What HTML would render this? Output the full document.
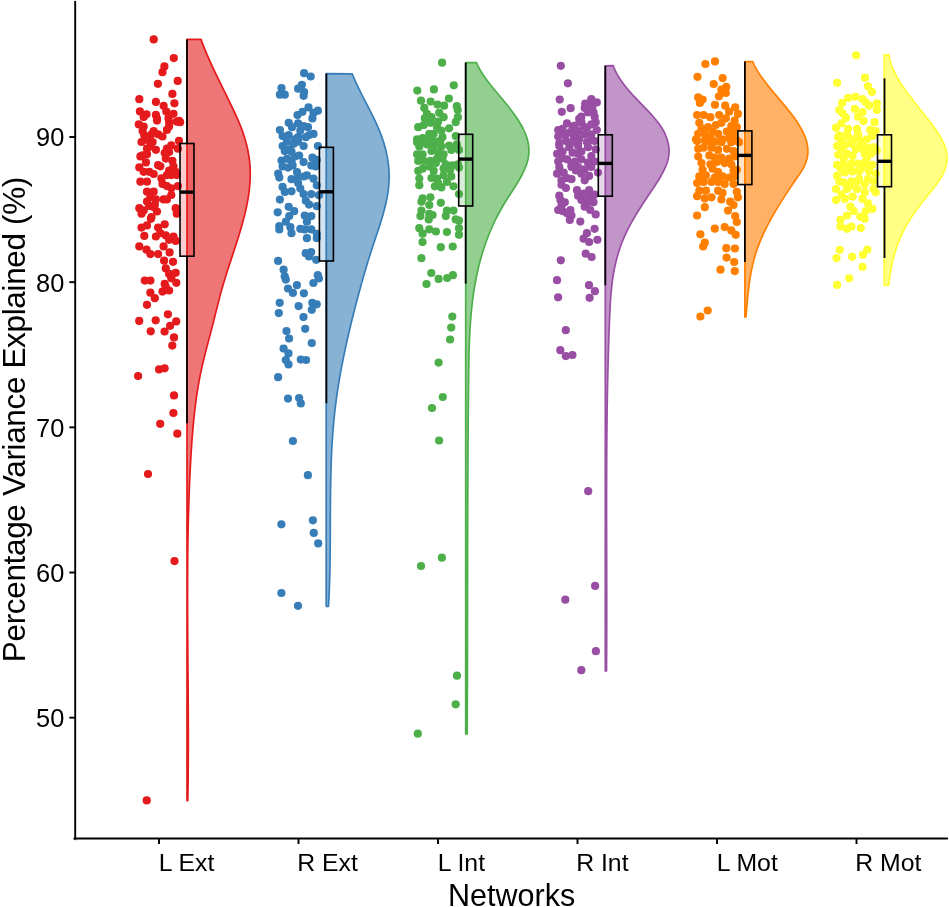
<!DOCTYPE html>
<html><head><meta charset="utf-8"><style>
html,body{margin:0;padding:0;background:#fff;}
svg{display:block;}
text{font-family:"Liberation Sans",Arial,sans-serif;fill:#000;}
.tk{font-size:24.8px;}
.tky{font-size:25.4px;}
.tt{font-size:31px;}
</style></head><body>
<svg width="949" height="907" viewBox="0 0 949 907">
<path d="M187.00,39.40 L201.01,39.40 L201.37,40.40 L201.73,41.40 L202.10,42.40 L202.48,43.40 L202.86,44.40 L203.24,45.40 L203.63,46.40 L204.03,47.40 L204.43,48.40 L204.83,49.40 L205.24,50.40 L205.66,51.40 L206.07,52.40 L206.49,53.40 L206.92,54.40 L207.35,55.40 L207.78,56.40 L208.22,57.40 L208.65,58.40 L209.10,59.40 L209.54,60.40 L209.99,61.40 L210.45,62.40 L210.90,63.40 L211.36,64.40 L211.82,65.40 L212.28,66.40 L212.75,67.40 L213.22,68.40 L213.69,69.40 L214.16,70.40 L214.64,71.40 L215.11,72.40 L215.59,73.40 L216.07,74.40 L216.56,75.40 L217.04,76.40 L217.52,77.40 L218.01,78.40 L218.50,79.40 L218.99,80.40 L219.48,81.40 L219.97,82.40 L220.46,83.40 L220.95,84.40 L221.45,85.40 L221.94,86.40 L222.43,87.40 L222.93,88.40 L223.42,89.40 L223.91,90.40 L224.41,91.40 L224.90,92.40 L225.40,93.40 L225.89,94.40 L226.38,95.40 L226.87,96.40 L227.36,97.40 L227.85,98.40 L228.34,99.40 L228.83,100.40 L229.32,101.40 L229.80,102.40 L230.29,103.40 L230.77,104.40 L231.25,105.40 L231.73,106.40 L232.21,107.40 L232.69,108.40 L233.16,109.40 L233.63,110.40 L234.10,111.40 L234.57,112.40 L235.03,113.40 L235.49,114.40 L235.94,115.40 L236.39,116.40 L236.84,117.40 L237.28,118.40 L237.72,119.40 L238.16,120.40 L238.58,121.40 L239.01,122.40 L239.42,123.40 L239.83,124.40 L240.24,125.40 L240.64,126.40 L241.03,127.40 L241.41,128.40 L241.79,129.40 L242.16,130.40 L242.52,131.40 L242.87,132.40 L243.22,133.40 L243.56,134.40 L243.89,135.40 L244.21,136.40 L244.52,137.40 L244.83,138.40 L245.13,139.40 L245.42,140.40 L245.70,141.40 L245.97,142.40 L246.24,143.40 L246.50,144.40 L246.74,145.40 L246.99,146.40 L247.22,147.40 L247.44,148.40 L247.66,149.40 L247.86,150.40 L248.06,151.40 L248.25,152.40 L248.43,153.40 L248.60,154.40 L248.77,155.40 L248.92,156.40 L249.07,157.40 L249.21,158.40 L249.34,159.40 L249.46,160.40 L249.57,161.40 L249.67,162.40 L249.77,163.40 L249.85,164.40 L249.93,165.40 L250.00,166.40 L250.05,167.40 L250.10,168.40 L250.15,169.40 L250.18,170.40 L250.20,171.40 L250.22,172.40 L250.23,173.40 L250.23,174.40 L250.22,175.40 L250.21,176.40 L250.18,177.40 L250.15,178.40 L250.11,179.40 L250.07,180.40 L250.02,181.40 L249.96,182.40 L249.89,183.40 L249.81,184.40 L249.73,185.40 L249.64,186.40 L249.55,187.40 L249.45,188.40 L249.34,189.40 L249.22,190.40 L249.10,191.40 L248.97,192.40 L248.84,193.40 L248.70,194.40 L248.55,195.40 L248.40,196.40 L248.24,197.40 L248.08,198.40 L247.91,199.40 L247.74,200.40 L247.56,201.40 L247.37,202.40 L247.18,203.40 L246.99,204.40 L246.79,205.40 L246.58,206.40 L246.37,207.40 L246.15,208.40 L245.93,209.40 L245.71,210.40 L245.48,211.40 L245.25,212.40 L245.01,213.40 L244.77,214.40 L244.52,215.40 L244.27,216.40 L244.02,217.40 L243.76,218.40 L243.50,219.40 L243.23,220.40 L242.97,221.40 L242.69,222.40 L242.42,223.40 L242.14,224.40 L241.86,225.40 L241.58,226.40 L241.29,227.40 L241.00,228.40 L240.71,229.40 L240.41,230.40 L240.11,231.40 L239.81,232.40 L239.51,233.40 L239.20,234.40 L238.90,235.40 L238.59,236.40 L238.28,237.40 L237.96,238.40 L237.65,239.40 L237.33,240.40 L237.01,241.40 L236.69,242.40 L236.37,243.40 L236.05,244.40 L235.73,245.40 L235.40,246.40 L235.08,247.40 L234.75,248.40 L234.42,249.40 L234.09,250.40 L233.77,251.40 L233.44,252.40 L233.11,253.40 L232.78,254.40 L232.45,255.40 L232.12,256.40 L231.79,257.40 L231.46,258.40 L231.13,259.40 L230.80,260.40 L230.47,261.40 L230.14,262.40 L229.81,263.40 L229.48,264.40 L229.15,265.40 L228.83,266.40 L228.50,267.40 L228.18,268.40 L227.86,269.40 L227.53,270.40 L227.21,271.40 L226.89,272.40 L226.58,273.40 L226.26,274.40 L225.95,275.40 L225.63,276.40 L225.32,277.40 L225.01,278.40 L224.71,279.40 L224.40,280.40 L224.10,281.40 L223.80,282.40 L223.50,283.40 L223.21,284.40 L222.92,285.40 L222.63,286.40 L222.34,287.40 L222.06,288.40 L221.77,289.40 L221.50,290.40 L221.22,291.40 L220.95,292.40 L220.68,293.40 L220.41,294.40 L220.14,295.40 L219.88,296.40 L219.61,297.40 L219.35,298.40 L219.09,299.40 L218.84,300.40 L218.58,301.40 L218.33,302.40 L218.07,303.40 L217.82,304.40 L217.57,305.40 L217.32,306.40 L217.07,307.40 L216.82,308.40 L216.57,309.40 L216.32,310.40 L216.08,311.40 L215.83,312.40 L215.58,313.40 L215.33,314.40 L215.09,315.40 L214.84,316.40 L214.59,317.40 L214.34,318.40 L214.09,319.40 L213.85,320.40 L213.59,321.40 L213.34,322.40 L213.09,323.40 L212.84,324.40 L212.58,325.40 L212.33,326.40 L212.07,327.40 L211.81,328.40 L211.55,329.40 L211.29,330.40 L211.03,331.40 L210.77,332.40 L210.50,333.40 L210.24,334.40 L209.97,335.40 L209.71,336.40 L209.44,337.40 L209.18,338.40 L208.91,339.40 L208.65,340.40 L208.38,341.40 L208.11,342.40 L207.85,343.40 L207.59,344.40 L207.32,345.40 L207.06,346.40 L206.80,347.40 L206.54,348.40 L206.28,349.40 L206.02,350.40 L205.76,351.40 L205.50,352.40 L205.25,353.40 L205.00,354.40 L204.75,355.40 L204.50,356.40 L204.25,357.40 L204.00,358.40 L203.76,359.40 L203.52,360.40 L203.28,361.40 L203.04,362.40 L202.81,363.40 L202.57,364.40 L202.34,365.40 L202.12,366.40 L201.89,367.40 L201.67,368.40 L201.45,369.40 L201.23,370.40 L201.01,371.40 L200.80,372.40 L200.59,373.40 L200.39,374.40 L200.18,375.40 L199.98,376.40 L199.78,377.40 L199.59,378.40 L199.40,379.40 L199.21,380.40 L199.02,381.40 L198.84,382.40 L198.66,383.40 L198.49,384.40 L198.31,385.40 L198.14,386.40 L197.97,387.40 L197.81,388.40 L197.65,389.40 L197.49,390.40 L197.33,391.40 L197.18,392.40 L197.02,393.40 L196.87,394.40 L196.73,395.40 L196.58,396.40 L196.44,397.40 L196.30,398.40 L196.16,399.40 L196.03,400.40 L195.89,401.40 L195.76,402.40 L195.63,403.40 L195.50,404.40 L195.38,405.40 L195.25,406.40 L195.13,407.40 L195.01,408.40 L194.89,409.40 L194.77,410.40 L194.66,411.40 L194.54,412.40 L194.43,413.40 L194.32,414.40 L194.21,415.40 L194.11,416.40 L194.00,417.40 L193.90,418.40 L193.80,419.40 L193.69,420.40 L193.60,421.40 L193.50,422.40 L193.40,423.40 L193.31,424.40 L193.21,425.40 L193.12,426.40 L193.03,427.40 L192.94,428.40 L192.85,429.40 L192.77,430.40 L192.68,431.40 L192.60,432.40 L192.52,433.40 L192.43,434.40 L192.35,435.40 L192.28,436.40 L192.20,437.40 L192.12,438.40 L192.05,439.40 L191.97,440.40 L191.90,441.40 L191.83,442.40 L191.75,443.40 L191.68,444.40 L191.62,445.40 L191.55,446.40 L191.48,447.40 L191.41,448.40 L191.35,449.40 L191.28,450.40 L191.22,451.40 L191.16,452.40 L191.10,453.40 L191.03,454.40 L190.97,455.40 L190.91,456.40 L190.86,457.40 L190.80,458.40 L190.74,459.40 L190.68,460.40 L190.63,461.40 L190.57,462.40 L190.52,463.40 L190.46,464.40 L190.41,465.40 L190.36,466.40 L190.31,467.40 L190.25,468.40 L190.20,469.40 L190.15,470.40 L190.10,471.40 L190.05,472.40 L190.00,473.40 L189.96,474.40 L189.91,475.40 L189.86,476.40 L189.82,477.40 L189.77,478.40 L189.72,479.40 L189.68,480.40 L189.64,481.40 L189.59,482.40 L189.55,483.40 L189.51,484.40 L189.47,485.40 L189.42,486.40 L189.38,487.40 L189.34,488.40 L189.30,489.40 L189.26,490.40 L189.23,491.40 L189.19,492.40 L189.15,493.40 L189.11,494.40 L189.08,495.40 L189.04,496.40 L189.01,497.40 L188.97,498.40 L188.94,499.40 L188.90,500.40 L188.87,501.40 L188.84,502.40 L188.80,503.40 L188.77,504.40 L188.74,505.40 L188.71,506.40 L188.68,507.40 L188.65,508.40 L188.62,509.40 L188.59,510.40 L188.56,511.40 L188.53,512.40 L188.51,513.40 L188.48,514.40 L188.45,515.40 L188.43,516.40 L188.40,517.40 L188.38,518.40 L188.35,519.40 L188.33,520.40 L188.30,521.40 L188.28,522.40 L188.26,523.40 L188.23,524.40 L188.21,525.40 L188.19,526.40 L188.17,527.40 L188.15,528.40 L188.13,529.40 L188.11,530.40 L188.09,531.40 L188.07,532.40 L188.05,533.40 L188.03,534.40 L188.01,535.40 L187.99,536.40 L187.98,537.40 L187.96,538.40 L187.94,539.40 L187.93,540.40 L187.91,541.40 L187.90,542.40 L187.88,543.40 L187.87,544.40 L187.85,545.40 L187.84,546.40 L187.82,547.40 L187.81,548.40 L187.80,549.40 L187.79,550.40 L187.77,551.40 L187.76,552.40 L187.75,553.40 L187.74,554.40 L187.73,555.40 L187.72,556.40 L187.71,557.40 L187.70,558.40 L187.69,559.40 L187.68,560.40 L187.67,561.40 L187.66,562.40 L187.65,563.40 L187.65,564.40 L187.64,565.40 L187.63,566.40 L187.63,567.40 L187.62,568.40 L187.61,569.40 L187.61,570.40 L187.60,571.40 L187.60,572.40 L187.59,573.40 L187.59,574.40 L187.58,575.40 L187.58,576.40 L187.57,577.40 L187.57,578.40 L187.57,579.40 L187.56,580.40 L187.56,581.40 L187.56,582.40 L187.55,583.40 L187.55,584.40 L187.55,585.40 L187.55,586.40 L187.55,587.40 L187.55,588.40 L187.54,589.40 L187.54,590.40 L187.54,591.40 L187.54,592.40 L187.54,593.40 L187.54,594.40 L187.54,595.40 L187.54,596.40 L187.55,597.40 L187.55,598.40 L187.55,599.40 L187.55,600.40 L187.55,601.40 L187.55,602.40 L187.55,603.40 L187.56,604.40 L187.56,605.40 L187.56,606.40 L187.56,607.40 L187.57,608.40 L187.57,609.40 L187.57,610.40 L187.58,611.40 L187.58,612.40 L187.58,613.40 L187.59,614.40 L187.59,615.40 L187.60,616.40 L187.60,617.40 L187.61,618.40 L187.61,619.40 L187.62,620.40 L187.62,621.40 L187.63,622.40 L187.63,623.40 L187.64,624.40 L187.64,625.40 L187.65,626.40 L187.65,627.40 L187.66,628.40 L187.66,629.40 L187.67,630.40 L187.68,631.40 L187.68,632.40 L187.69,633.40 L187.70,634.40 L187.70,635.40 L187.71,636.40 L187.72,637.40 L187.72,638.40 L187.73,639.40 L187.74,640.40 L187.74,641.40 L187.75,642.40 L187.76,643.40 L187.77,644.40 L187.77,645.40 L187.78,646.40 L187.79,647.40 L187.80,648.40 L187.80,649.40 L187.81,650.40 L187.82,651.40 L187.83,652.40 L187.84,653.40 L187.84,654.40 L187.85,655.40 L187.86,656.40 L187.87,657.40 L187.87,658.40 L187.88,659.40 L187.89,660.40 L187.90,661.40 L187.91,662.40 L187.91,663.40 L187.92,664.40 L187.93,665.40 L187.94,666.40 L187.95,667.40 L187.96,668.40 L187.96,669.40 L187.97,670.40 L187.98,671.40 L187.99,672.40 L188.00,673.40 L188.00,674.40 L188.01,675.40 L188.02,676.40 L188.03,677.40 L188.04,678.40 L188.04,679.40 L188.05,680.40 L188.06,681.40 L188.07,682.40 L188.07,683.40 L188.08,684.40 L188.09,685.40 L188.10,686.40 L188.10,687.40 L188.11,688.40 L188.12,689.40 L188.13,690.40 L188.13,691.40 L188.14,692.40 L188.15,693.40 L188.15,694.40 L188.16,695.40 L188.17,696.40 L188.18,697.40 L188.18,698.40 L188.19,699.40 L188.19,700.40 L188.20,701.40 L188.21,702.40 L188.21,703.40 L188.22,704.40 L188.22,705.40 L188.23,706.40 L188.24,707.40 L188.24,708.40 L188.25,709.40 L188.25,710.40 L188.26,711.40 L188.26,712.40 L188.27,713.40 L188.27,714.40 L188.28,715.40 L188.28,716.40 L188.28,717.40 L188.29,718.40 L188.29,719.40 L188.30,720.40 L188.30,721.40 L188.30,722.40 L188.31,723.40 L188.31,724.40 L188.31,725.40 L188.31,726.40 L188.32,727.40 L188.32,728.40 L188.32,729.40 L188.32,730.40 L188.33,731.40 L188.33,732.40 L188.33,733.40 L188.33,734.40 L188.33,735.40 L188.33,736.40 L188.33,737.40 L188.33,738.40 L188.33,739.40 L188.33,740.40 L188.33,741.40 L188.33,742.40 L188.33,743.40 L188.33,744.40 L188.33,745.40 L188.33,746.40 L188.32,747.40 L188.32,748.40 L188.32,749.40 L188.32,750.40 L188.31,751.40 L188.31,752.40 L188.31,753.40 L188.30,754.40 L188.30,755.40 L188.30,756.40 L188.29,757.40 L188.29,758.40 L188.28,759.40 L188.28,760.40 L188.27,761.40 L188.27,762.40 L188.26,763.40 L188.25,764.40 L188.25,765.40 L188.24,766.40 L188.23,767.40 L188.23,768.40 L188.22,769.40 L188.21,770.40 L188.20,771.40 L188.19,772.40 L188.18,773.40 L188.17,774.40 L188.16,775.40 L188.15,776.40 L188.14,777.40 L188.13,778.40 L188.12,779.40 L188.11,780.40 L188.10,781.40 L188.08,782.40 L188.07,783.40 L188.06,784.40 L188.05,785.40 L188.03,786.40 L188.02,787.40 L188.00,788.40 L187.99,789.40 L187.97,790.40 L187.96,791.40 L187.94,792.40 L187.93,793.40 L187.91,794.40 L187.89,795.40 L187.87,796.40 L187.86,797.40 L187.84,798.40 L187.82,799.40 L187.80,800.40 L187.80,800.60 L187.00,800.60 Z" fill="#E41A1C" fill-opacity="0.6" stroke="#E41A1C" stroke-width="1.7" stroke-linejoin="round"/>
<path d="M326.20,73.60 L352.19,73.80 L352.60,74.80 L353.01,75.80 L353.43,76.80 L353.86,77.80 L354.30,78.80 L354.74,79.80 L355.19,80.80 L355.64,81.80 L356.10,82.80 L356.57,83.80 L357.04,84.80 L357.51,85.80 L357.99,86.80 L358.48,87.80 L358.96,88.80 L359.46,89.80 L359.95,90.80 L360.45,91.80 L360.95,92.80 L361.46,93.80 L361.96,94.80 L362.47,95.80 L362.98,96.80 L363.50,97.80 L364.01,98.80 L364.53,99.80 L365.04,100.80 L365.56,101.80 L366.07,102.80 L366.59,103.80 L367.11,104.80 L367.62,105.80 L368.13,106.80 L368.65,107.80 L369.16,108.80 L369.67,109.80 L370.18,110.80 L370.68,111.80 L371.19,112.80 L371.69,113.80 L372.18,114.80 L372.68,115.80 L373.17,116.80 L373.65,117.80 L374.13,118.80 L374.61,119.80 L375.08,120.80 L375.55,121.80 L376.01,122.80 L376.47,123.80 L376.92,124.80 L377.36,125.80 L377.80,126.80 L378.23,127.80 L378.66,128.80 L379.07,129.80 L379.48,130.80 L379.88,131.80 L380.28,132.80 L380.66,133.80 L381.04,134.80 L381.41,135.80 L381.77,136.80 L382.12,137.80 L382.47,138.80 L382.81,139.80 L383.13,140.80 L383.46,141.80 L383.77,142.80 L384.07,143.80 L384.37,144.80 L384.65,145.80 L384.93,146.80 L385.20,147.80 L385.46,148.80 L385.71,149.80 L385.96,150.80 L386.19,151.80 L386.42,152.80 L386.63,153.80 L386.84,154.80 L387.04,155.80 L387.23,156.80 L387.41,157.80 L387.59,158.80 L387.75,159.80 L387.90,160.80 L388.05,161.80 L388.19,162.80 L388.31,163.80 L388.43,164.80 L388.54,165.80 L388.64,166.80 L388.73,167.80 L388.81,168.80 L388.88,169.80 L388.94,170.80 L388.99,171.80 L389.04,172.80 L389.07,173.80 L389.09,174.80 L389.11,175.80 L389.11,176.80 L389.11,177.80 L389.09,178.80 L389.07,179.80 L389.03,180.80 L388.99,181.80 L388.93,182.80 L388.87,183.80 L388.79,184.80 L388.71,185.80 L388.61,186.80 L388.51,187.80 L388.40,188.80 L388.28,189.80 L388.15,190.80 L388.02,191.80 L387.87,192.80 L387.72,193.80 L387.56,194.80 L387.39,195.80 L387.21,196.80 L387.03,197.80 L386.84,198.80 L386.64,199.80 L386.43,200.80 L386.22,201.80 L386.00,202.80 L385.78,203.80 L385.55,204.80 L385.31,205.80 L385.07,206.80 L384.82,207.80 L384.57,208.80 L384.31,209.80 L384.05,210.80 L383.78,211.80 L383.50,212.80 L383.23,213.80 L382.94,214.80 L382.66,215.80 L382.37,216.80 L382.07,217.80 L381.77,218.80 L381.47,219.80 L381.17,220.80 L380.86,221.80 L380.55,222.80 L380.23,223.80 L379.92,224.80 L379.60,225.80 L379.28,226.80 L378.95,227.80 L378.63,228.80 L378.30,229.80 L377.97,230.80 L377.64,231.80 L377.31,232.80 L376.98,233.80 L376.65,234.80 L376.31,235.80 L375.98,236.80 L375.64,237.80 L375.31,238.80 L374.97,239.80 L374.64,240.80 L374.31,241.80 L373.97,242.80 L373.64,243.80 L373.31,244.80 L372.98,245.80 L372.65,246.80 L372.32,247.80 L371.99,248.80 L371.66,249.80 L371.34,250.80 L371.02,251.80 L370.70,252.80 L370.38,253.80 L370.06,254.80 L369.75,255.80 L369.43,256.80 L369.12,257.80 L368.81,258.80 L368.50,259.80 L368.19,260.80 L367.88,261.80 L367.58,262.80 L367.27,263.80 L366.97,264.80 L366.67,265.80 L366.37,266.80 L366.07,267.80 L365.77,268.80 L365.48,269.80 L365.18,270.80 L364.89,271.80 L364.60,272.80 L364.31,273.80 L364.02,274.80 L363.73,275.80 L363.44,276.80 L363.16,277.80 L362.87,278.80 L362.59,279.80 L362.30,280.80 L362.02,281.80 L361.74,282.80 L361.46,283.80 L361.18,284.80 L360.91,285.80 L360.63,286.80 L360.36,287.80 L360.08,288.80 L359.81,289.80 L359.54,290.80 L359.26,291.80 L358.99,292.80 L358.72,293.80 L358.46,294.80 L358.19,295.80 L357.92,296.80 L357.66,297.80 L357.39,298.80 L357.13,299.80 L356.86,300.80 L356.60,301.80 L356.34,302.80 L356.08,303.80 L355.82,304.80 L355.56,305.80 L355.30,306.80 L355.04,307.80 L354.78,308.80 L354.52,309.80 L354.27,310.80 L354.01,311.80 L353.76,312.80 L353.51,313.80 L353.25,314.80 L353.00,315.80 L352.75,316.80 L352.50,317.80 L352.25,318.80 L352.01,319.80 L351.76,320.80 L351.51,321.80 L351.27,322.80 L351.02,323.80 L350.78,324.80 L350.54,325.80 L350.30,326.80 L350.06,327.80 L349.82,328.80 L349.58,329.80 L349.34,330.80 L349.11,331.80 L348.87,332.80 L348.64,333.80 L348.41,334.80 L348.18,335.80 L347.95,336.80 L347.72,337.80 L347.49,338.80 L347.26,339.80 L347.04,340.80 L346.81,341.80 L346.59,342.80 L346.37,343.80 L346.15,344.80 L345.93,345.80 L345.71,346.80 L345.49,347.80 L345.28,348.80 L345.06,349.80 L344.85,350.80 L344.64,351.80 L344.43,352.80 L344.22,353.80 L344.01,354.80 L343.80,355.80 L343.60,356.80 L343.39,357.80 L343.19,358.80 L342.99,359.80 L342.79,360.80 L342.59,361.80 L342.40,362.80 L342.20,363.80 L342.01,364.80 L341.81,365.80 L341.62,366.80 L341.43,367.80 L341.25,368.80 L341.06,369.80 L340.87,370.80 L340.69,371.80 L340.51,372.80 L340.33,373.80 L340.15,374.80 L339.97,375.80 L339.80,376.80 L339.62,377.80 L339.45,378.80 L339.28,379.80 L339.11,380.80 L338.95,381.80 L338.78,382.80 L338.62,383.80 L338.45,384.80 L338.29,385.80 L338.14,386.80 L337.98,387.80 L337.82,388.80 L337.67,389.80 L337.52,390.80 L337.37,391.80 L337.22,392.80 L337.07,393.80 L336.93,394.80 L336.79,395.80 L336.65,396.80 L336.51,397.80 L336.37,398.80 L336.23,399.80 L336.10,400.80 L335.97,401.80 L335.84,402.80 L335.71,403.80 L335.59,404.80 L335.46,405.80 L335.34,406.80 L335.22,407.80 L335.10,408.80 L334.99,409.80 L334.87,410.80 L334.76,411.80 L334.65,412.80 L334.54,413.80 L334.44,414.80 L334.33,415.80 L334.23,416.80 L334.13,417.80 L334.03,418.80 L333.93,419.80 L333.84,420.80 L333.74,421.80 L333.65,422.80 L333.56,423.80 L333.47,424.80 L333.38,425.80 L333.30,426.80 L333.22,427.80 L333.13,428.80 L333.05,429.80 L332.97,430.80 L332.90,431.80 L332.82,432.80 L332.75,433.80 L332.68,434.80 L332.60,435.80 L332.54,436.80 L332.47,437.80 L332.40,438.80 L332.34,439.80 L332.27,440.80 L332.21,441.80 L332.15,442.80 L332.09,443.80 L332.03,444.80 L331.97,445.80 L331.92,446.80 L331.86,447.80 L331.81,448.80 L331.76,449.80 L331.71,450.80 L331.66,451.80 L331.61,452.80 L331.57,453.80 L331.52,454.80 L331.48,455.80 L331.43,456.80 L331.39,457.80 L331.35,458.80 L331.31,459.80 L331.27,460.80 L331.24,461.80 L331.20,462.80 L331.16,463.80 L331.13,464.80 L331.10,465.80 L331.06,466.80 L331.03,467.80 L331.00,468.80 L330.97,469.80 L330.94,470.80 L330.92,471.80 L330.89,472.80 L330.86,473.80 L330.84,474.80 L330.82,475.80 L330.79,476.80 L330.77,477.80 L330.75,478.80 L330.73,479.80 L330.71,480.80 L330.69,481.80 L330.67,482.80 L330.65,483.80 L330.63,484.80 L330.62,485.80 L330.60,486.80 L330.59,487.80 L330.57,488.80 L330.56,489.80 L330.54,490.80 L330.53,491.80 L330.52,492.80 L330.51,493.80 L330.49,494.80 L330.48,495.80 L330.47,496.80 L330.46,497.80 L330.45,498.80 L330.44,499.80 L330.44,500.80 L330.43,501.80 L330.42,502.80 L330.41,503.80 L330.41,504.80 L330.40,505.80 L330.39,506.80 L330.39,507.80 L330.38,508.80 L330.38,509.80 L330.37,510.80 L330.36,511.80 L330.36,512.80 L330.36,513.80 L330.35,514.80 L330.35,515.80 L330.34,516.80 L330.34,517.80 L330.33,518.80 L330.33,519.80 L330.33,520.80 L330.32,521.80 L330.32,522.80 L330.32,523.80 L330.31,524.80 L330.31,525.80 L330.31,526.80 L330.30,527.80 L330.30,528.80 L330.29,529.80 L330.29,530.80 L330.29,531.80 L330.28,532.80 L330.28,533.80 L330.27,534.80 L330.27,535.80 L330.27,536.80 L330.26,537.80 L330.26,538.80 L330.25,539.80 L330.24,540.80 L330.24,541.80 L330.23,542.80 L330.23,543.80 L330.22,544.80 L330.21,545.80 L330.20,546.80 L330.20,547.80 L330.19,548.80 L330.18,549.80 L330.17,550.80 L330.16,551.80 L330.15,552.80 L330.14,553.80 L330.13,554.80 L330.12,555.80 L330.11,556.80 L330.09,557.80 L330.08,558.80 L330.07,559.80 L330.05,560.80 L330.04,561.80 L330.02,562.80 L330.01,563.80 L329.99,564.80 L329.97,565.80 L329.96,566.80 L329.94,567.80 L329.92,568.80 L329.90,569.80 L329.88,570.80 L329.85,571.80 L329.83,572.80 L329.81,573.80 L329.78,574.80 L329.76,575.80 L329.73,576.80 L329.71,577.80 L329.68,578.80 L329.65,579.80 L329.62,580.80 L329.59,581.80 L329.56,582.80 L329.52,583.80 L329.49,584.80 L329.46,585.80 L329.42,586.80 L329.38,587.80 L329.35,588.80 L329.31,589.80 L329.27,590.80 L329.23,591.80 L329.19,592.80 L329.14,593.80 L329.10,594.80 L329.05,595.80 L329.01,596.80 L328.96,597.80 L328.91,598.80 L328.86,599.80 L328.81,600.80 L328.75,601.80 L328.70,602.80 L328.64,603.80 L328.59,604.80 L328.53,605.80 L328.50,606.30 L326.20,606.30 Z" fill="#377EB8" fill-opacity="0.6" stroke="#377EB8" stroke-width="1.7" stroke-linejoin="round"/>
<path d="M465.70,62.60 L476.50,62.50 L476.90,63.50 L477.32,64.50 L477.78,65.50 L478.26,66.50 L478.76,67.50 L479.29,68.50 L479.84,69.50 L480.41,70.50 L481.00,71.50 L481.62,72.50 L482.25,73.50 L482.90,74.50 L483.57,75.50 L484.25,76.50 L484.95,77.50 L485.67,78.50 L486.40,79.50 L487.14,80.50 L487.90,81.50 L488.67,82.50 L489.45,83.50 L490.23,84.50 L491.03,85.50 L491.83,86.50 L492.65,87.50 L493.46,88.50 L494.29,89.50 L495.12,90.50 L495.95,91.50 L496.78,92.50 L497.62,93.50 L498.46,94.50 L499.30,95.50 L500.13,96.50 L500.97,97.50 L501.80,98.50 L502.63,99.50 L503.46,100.50 L504.28,101.50 L505.10,102.50 L505.91,103.50 L506.72,104.50 L507.52,105.50 L508.31,106.50 L509.10,107.50 L509.87,108.50 L510.64,109.50 L511.40,110.50 L512.15,111.50 L512.89,112.50 L513.62,113.50 L514.34,114.50 L515.05,115.50 L515.75,116.50 L516.43,117.50 L517.11,118.50 L517.76,119.50 L518.41,120.50 L519.04,121.50 L519.65,122.50 L520.25,123.50 L520.84,124.50 L521.40,125.50 L521.96,126.50 L522.49,127.50 L523.01,128.50 L523.50,129.50 L523.98,130.50 L524.44,131.50 L524.88,132.50 L525.30,133.50 L525.70,134.50 L526.08,135.50 L526.44,136.50 L526.77,137.50 L527.08,138.50 L527.37,139.50 L527.63,140.50 L527.87,141.50 L528.09,142.50 L528.28,143.50 L528.44,144.50 L528.58,145.50 L528.70,146.50 L528.79,147.50 L528.85,148.50 L528.89,149.50 L528.90,150.50 L528.89,151.50 L528.85,152.50 L528.79,153.50 L528.71,154.50 L528.60,155.50 L528.46,156.50 L528.30,157.50 L528.11,158.50 L527.91,159.50 L527.67,160.50 L527.41,161.50 L527.13,162.50 L526.83,163.50 L526.50,164.50 L526.15,165.50 L525.78,166.50 L525.39,167.50 L524.98,168.50 L524.55,169.50 L524.10,170.50 L523.64,171.50 L523.16,172.50 L522.67,173.50 L522.16,174.50 L521.64,175.50 L521.10,176.50 L520.55,177.50 L519.99,178.50 L519.42,179.50 L518.84,180.50 L518.25,181.50 L517.65,182.50 L517.04,183.50 L516.43,184.50 L515.81,185.50 L515.18,186.50 L514.55,187.50 L513.91,188.50 L513.28,189.50 L512.64,190.50 L511.99,191.50 L511.35,192.50 L510.70,193.50 L510.06,194.50 L509.41,195.50 L508.77,196.50 L508.13,197.50 L507.49,198.50 L506.85,199.50 L506.22,200.50 L505.60,201.50 L504.98,202.50 L504.36,203.50 L503.76,204.50 L503.16,205.50 L502.57,206.50 L501.99,207.50 L501.41,208.50 L500.85,209.50 L500.29,210.50 L499.74,211.50 L499.19,212.50 L498.66,213.50 L498.13,214.50 L497.60,215.50 L497.09,216.50 L496.58,217.50 L496.08,218.50 L495.59,219.50 L495.10,220.50 L494.62,221.50 L494.14,222.50 L493.68,223.50 L493.21,224.50 L492.76,225.50 L492.31,226.50 L491.87,227.50 L491.43,228.50 L491.00,229.50 L490.57,230.50 L490.15,231.50 L489.73,232.50 L489.32,233.50 L488.92,234.50 L488.52,235.50 L488.13,236.50 L487.74,237.50 L487.36,238.50 L486.98,239.50 L486.61,240.50 L486.25,241.50 L485.89,242.50 L485.53,243.50 L485.18,244.50 L484.84,245.50 L484.50,246.50 L484.16,247.50 L483.83,248.50 L483.51,249.50 L483.19,250.50 L482.87,251.50 L482.56,252.50 L482.26,253.50 L481.96,254.50 L481.66,255.50 L481.37,256.50 L481.08,257.50 L480.80,258.50 L480.52,259.50 L480.25,260.50 L479.98,261.50 L479.72,262.50 L479.46,263.50 L479.20,264.50 L478.95,265.50 L478.71,266.50 L478.46,267.50 L478.22,268.50 L477.99,269.50 L477.76,270.50 L477.53,271.50 L477.31,272.50 L477.09,273.50 L476.88,274.50 L476.67,275.50 L476.46,276.50 L476.26,277.50 L476.06,278.50 L475.87,279.50 L475.68,280.50 L475.49,281.50 L475.31,282.50 L475.13,283.50 L474.95,284.50 L474.78,285.50 L474.61,286.50 L474.44,287.50 L474.28,288.50 L474.12,289.50 L473.96,290.50 L473.81,291.50 L473.66,292.50 L473.51,293.50 L473.37,294.50 L473.22,295.50 L473.09,296.50 L472.95,297.50 L472.82,298.50 L472.69,299.50 L472.57,300.50 L472.44,301.50 L472.32,302.50 L472.20,303.50 L472.09,304.50 L471.98,305.50 L471.87,306.50 L471.76,307.50 L471.66,308.50 L471.55,309.50 L471.45,310.50 L471.36,311.50 L471.26,312.50 L471.17,313.50 L471.08,314.50 L470.99,315.50 L470.91,316.50 L470.82,317.50 L470.74,318.50 L470.66,319.50 L470.59,320.50 L470.51,321.50 L470.44,322.50 L470.37,323.50 L470.30,324.50 L470.23,325.50 L470.17,326.50 L470.11,327.50 L470.04,328.50 L469.99,329.50 L469.93,330.50 L469.87,331.50 L469.82,332.50 L469.77,333.50 L469.72,334.50 L469.67,335.50 L469.62,336.50 L469.57,337.50 L469.53,338.50 L469.49,339.50 L469.44,340.50 L469.40,341.50 L469.37,342.50 L469.33,343.50 L469.29,344.50 L469.26,345.50 L469.22,346.50 L469.19,347.50 L469.16,348.50 L469.13,349.50 L469.10,350.50 L469.07,351.50 L469.05,352.50 L469.02,353.50 L469.00,354.50 L468.97,355.50 L468.95,356.50 L468.93,357.50 L468.91,358.50 L468.89,359.50 L468.87,360.50 L468.85,361.50 L468.83,362.50 L468.81,363.50 L468.80,364.50 L468.78,365.50 L468.76,366.50 L468.75,367.50 L468.73,368.50 L468.72,369.50 L468.71,370.50 L468.69,371.50 L468.68,372.50 L468.67,373.50 L468.66,374.50 L468.64,375.50 L468.63,376.50 L468.62,377.50 L468.61,378.50 L468.60,379.50 L468.59,380.50 L468.58,381.50 L468.56,382.50 L468.55,383.50 L468.54,384.50 L468.53,385.50 L468.52,386.50 L468.51,387.50 L468.50,388.50 L468.49,389.50 L468.48,390.50 L468.47,391.50 L468.46,392.50 L468.45,393.50 L468.44,394.50 L468.43,395.50 L468.42,396.50 L468.41,397.50 L468.40,398.50 L468.39,399.50 L468.38,400.50 L468.37,401.50 L468.36,402.50 L468.35,403.50 L468.34,404.50 L468.33,405.50 L468.32,406.50 L468.32,407.50 L468.31,408.50 L468.30,409.50 L468.29,410.50 L468.28,411.50 L468.27,412.50 L468.26,413.50 L468.25,414.50 L468.25,415.50 L468.24,416.50 L468.23,417.50 L468.22,418.50 L468.21,419.50 L468.20,420.50 L468.20,421.50 L468.19,422.50 L468.18,423.50 L468.17,424.50 L468.17,425.50 L468.16,426.50 L468.15,427.50 L468.14,428.50 L468.14,429.50 L468.13,430.50 L468.12,431.50 L468.11,432.50 L468.11,433.50 L468.10,434.50 L468.09,435.50 L468.08,436.50 L468.08,437.50 L468.07,438.50 L468.06,439.50 L468.06,440.50 L468.05,441.50 L468.04,442.50 L468.04,443.50 L468.03,444.50 L468.02,445.50 L468.02,446.50 L468.01,447.50 L468.01,448.50 L468.00,449.50 L467.99,450.50 L467.99,451.50 L467.98,452.50 L467.97,453.50 L467.97,454.50 L467.96,455.50 L467.96,456.50 L467.95,457.50 L467.95,458.50 L467.94,459.50 L467.93,460.50 L467.93,461.50 L467.92,462.50 L467.92,463.50 L467.91,464.50 L467.91,465.50 L467.90,466.50 L467.90,467.50 L467.89,468.50 L467.89,469.50 L467.88,470.50 L467.88,471.50 L467.87,472.50 L467.87,473.50 L467.86,474.50 L467.86,475.50 L467.85,476.50 L467.85,477.50 L467.84,478.50 L467.84,479.50 L467.83,480.50 L467.83,481.50 L467.82,482.50 L467.82,483.50 L467.82,484.50 L467.81,485.50 L467.81,486.50 L467.80,487.50 L467.80,488.50 L467.79,489.50 L467.79,490.50 L467.79,491.50 L467.78,492.50 L467.78,493.50 L467.77,494.50 L467.77,495.50 L467.77,496.50 L467.76,497.50 L467.76,498.50 L467.76,499.50 L467.75,500.50 L467.75,501.50 L467.74,502.50 L467.74,503.50 L467.74,504.50 L467.73,505.50 L467.73,506.50 L467.73,507.50 L467.72,508.50 L467.72,509.50 L467.72,510.50 L467.71,511.50 L467.71,512.50 L467.71,513.50 L467.70,514.50 L467.70,515.50 L467.70,516.50 L467.69,517.50 L467.69,518.50 L467.69,519.50 L467.69,520.50 L467.68,521.50 L467.68,522.50 L467.68,523.50 L467.67,524.50 L467.67,525.50 L467.67,526.50 L467.67,527.50 L467.66,528.50 L467.66,529.50 L467.66,530.50 L467.66,531.50 L467.65,532.50 L467.65,533.50 L467.65,534.50 L467.65,535.50 L467.64,536.50 L467.64,537.50 L467.64,538.50 L467.64,539.50 L467.63,540.50 L467.63,541.50 L467.63,542.50 L467.63,543.50 L467.62,544.50 L467.62,545.50 L467.62,546.50 L467.62,547.50 L467.61,548.50 L467.61,549.50 L467.61,550.50 L467.61,551.50 L467.61,552.50 L467.60,553.50 L467.60,554.50 L467.60,555.50 L467.60,556.50 L467.60,557.50 L467.59,558.50 L467.59,559.50 L467.59,560.50 L467.59,561.50 L467.59,562.50 L467.58,563.50 L467.58,564.50 L467.58,565.50 L467.58,566.50 L467.58,567.50 L467.58,568.50 L467.57,569.50 L467.57,570.50 L467.57,571.50 L467.57,572.50 L467.57,573.50 L467.56,574.50 L467.56,575.50 L467.56,576.50 L467.56,577.50 L467.56,578.50 L467.56,579.50 L467.55,580.50 L467.55,581.50 L467.55,582.50 L467.55,583.50 L467.55,584.50 L467.55,585.50 L467.54,586.50 L467.54,587.50 L467.54,588.50 L467.54,589.50 L467.54,590.50 L467.54,591.50 L467.54,592.50 L467.53,593.50 L467.53,594.50 L467.53,595.50 L467.53,596.50 L467.53,597.50 L467.53,598.50 L467.52,599.50 L467.52,600.50 L467.52,601.50 L467.52,602.50 L467.52,603.50 L467.52,604.50 L467.52,605.50 L467.51,606.50 L467.51,607.50 L467.51,608.50 L467.51,609.50 L467.51,610.50 L467.51,611.50 L467.50,612.50 L467.50,613.50 L467.50,614.50 L467.50,615.50 L467.50,616.50 L467.50,617.50 L467.50,618.50 L467.49,619.50 L467.49,620.50 L467.49,621.50 L467.49,622.50 L467.49,623.50 L467.49,624.50 L467.49,625.50 L467.48,626.50 L467.48,627.50 L467.48,628.50 L467.48,629.50 L467.48,630.50 L467.48,631.50 L467.47,632.50 L467.47,633.50 L467.47,634.50 L467.47,635.50 L467.47,636.50 L467.47,637.50 L467.46,638.50 L467.46,639.50 L467.46,640.50 L467.46,641.50 L467.46,642.50 L467.46,643.50 L467.45,644.50 L467.45,645.50 L467.45,646.50 L467.45,647.50 L467.45,648.50 L467.44,649.50 L467.44,650.50 L467.44,651.50 L467.44,652.50 L467.44,653.50 L467.44,654.50 L467.43,655.50 L467.43,656.50 L467.43,657.50 L467.43,658.50 L467.43,659.50 L467.42,660.50 L467.42,661.50 L467.42,662.50 L467.42,663.50 L467.42,664.50 L467.41,665.50 L467.41,666.50 L467.41,667.50 L467.41,668.50 L467.40,669.50 L467.40,670.50 L467.40,671.50 L467.40,672.50 L467.40,673.50 L467.39,674.50 L467.39,675.50 L467.39,676.50 L467.39,677.50 L467.38,678.50 L467.38,679.50 L467.38,680.50 L467.38,681.50 L467.37,682.50 L467.37,683.50 L467.37,684.50 L467.37,685.50 L467.36,686.50 L467.36,687.50 L467.36,688.50 L467.36,689.50 L467.35,690.50 L467.35,691.50 L467.35,692.50 L467.34,693.50 L467.34,694.50 L467.34,695.50 L467.34,696.50 L467.33,697.50 L467.33,698.50 L467.33,699.50 L467.32,700.50 L467.32,701.50 L467.32,702.50 L467.31,703.50 L467.31,704.50 L467.31,705.50 L467.31,706.50 L467.30,707.50 L467.30,708.50 L467.30,709.50 L467.29,710.50 L467.29,711.50 L467.28,712.50 L467.28,713.50 L467.28,714.50 L467.27,715.50 L467.27,716.50 L467.27,717.50 L467.26,718.50 L467.26,719.50 L467.26,720.50 L467.25,721.50 L467.25,722.50 L467.24,723.50 L467.24,724.50 L467.24,725.50 L467.23,726.50 L467.23,727.50 L467.22,728.50 L467.22,729.50 L467.22,730.50 L467.21,731.50 L467.21,732.50 L467.20,733.50 L467.20,734.00 L465.70,734.00 Z" fill="#4DAF4A" fill-opacity="0.6" stroke="#4DAF4A" stroke-width="1.7" stroke-linejoin="round"/>
<path d="M605.30,65.80 L613.20,65.70 L613.56,66.70 L613.94,67.70 L614.35,68.70 L614.79,69.70 L615.25,70.70 L615.74,71.70 L616.25,72.70 L616.79,73.70 L617.35,74.70 L617.94,75.70 L618.54,76.70 L619.17,77.70 L619.82,78.70 L620.49,79.70 L621.18,80.70 L621.89,81.70 L622.62,82.70 L623.36,83.70 L624.12,84.70 L624.90,85.70 L625.69,86.70 L626.50,87.70 L627.32,88.70 L628.16,89.70 L629.01,90.70 L629.87,91.70 L630.75,92.70 L631.63,93.70 L632.53,94.70 L633.43,95.70 L634.35,96.70 L635.27,97.70 L636.20,98.70 L637.14,99.70 L638.08,100.70 L639.03,101.70 L639.99,102.70 L640.95,103.70 L641.91,104.70 L642.88,105.70 L643.85,106.70 L644.81,107.70 L645.78,108.70 L646.74,109.70 L647.70,110.70 L648.65,111.70 L649.59,112.70 L650.52,113.70 L651.45,114.70 L652.35,115.70 L653.25,116.70 L654.13,117.70 L654.99,118.70 L655.83,119.70 L656.65,120.70 L657.45,121.70 L658.23,122.70 L658.98,123.70 L659.70,124.70 L660.40,125.70 L661.07,126.70 L661.70,127.70 L662.31,128.70 L662.89,129.70 L663.44,130.70 L663.96,131.70 L664.45,132.70 L664.92,133.70 L665.37,134.70 L665.78,135.70 L666.18,136.70 L666.55,137.70 L666.90,138.70 L667.22,139.70 L667.52,140.70 L667.79,141.70 L668.04,142.70 L668.26,143.70 L668.46,144.70 L668.63,145.70 L668.77,146.70 L668.89,147.70 L668.97,148.70 L669.03,149.70 L669.06,150.70 L669.06,151.70 L669.03,152.70 L668.96,153.70 L668.87,154.70 L668.75,155.70 L668.59,156.70 L668.41,157.70 L668.20,158.70 L667.96,159.70 L667.70,160.70 L667.41,161.70 L667.09,162.70 L666.75,163.70 L666.39,164.70 L666.00,165.70 L665.60,166.70 L665.17,167.70 L664.72,168.70 L664.26,169.70 L663.77,170.70 L663.27,171.70 L662.75,172.70 L662.22,173.70 L661.67,174.70 L661.11,175.70 L660.53,176.70 L659.94,177.70 L659.34,178.70 L658.73,179.70 L658.11,180.70 L657.48,181.70 L656.84,182.70 L656.19,183.70 L655.54,184.70 L654.88,185.70 L654.22,186.70 L653.55,187.70 L652.88,188.70 L652.21,189.70 L651.53,190.70 L650.85,191.70 L650.18,192.70 L649.50,193.70 L648.83,194.70 L648.16,195.70 L647.49,196.70 L646.82,197.70 L646.16,198.70 L645.49,199.70 L644.84,200.70 L644.18,201.70 L643.53,202.70 L642.88,203.70 L642.23,204.70 L641.59,205.70 L640.95,206.70 L640.32,207.70 L639.69,208.70 L639.06,209.70 L638.44,210.70 L637.82,211.70 L637.21,212.70 L636.61,213.70 L636.00,214.70 L635.41,215.70 L634.82,216.70 L634.23,217.70 L633.65,218.70 L633.08,219.70 L632.51,220.70 L631.95,221.70 L631.40,222.70 L630.85,223.70 L630.31,224.70 L629.77,225.70 L629.24,226.70 L628.72,227.70 L628.21,228.70 L627.71,229.70 L627.21,230.70 L626.72,231.70 L626.24,232.70 L625.76,233.70 L625.30,234.70 L624.84,235.70 L624.40,236.70 L623.96,237.70 L623.53,238.70 L623.11,239.70 L622.69,240.70 L622.29,241.70 L621.90,242.70 L621.51,243.70 L621.14,244.70 L620.77,245.70 L620.41,246.70 L620.06,247.70 L619.72,248.70 L619.38,249.70 L619.05,250.70 L618.74,251.70 L618.42,252.70 L618.12,253.70 L617.83,254.70 L617.54,255.70 L617.26,256.70 L616.98,257.70 L616.72,258.70 L616.46,259.70 L616.20,260.70 L615.96,261.70 L615.72,262.70 L615.49,263.70 L615.26,264.70 L615.04,265.70 L614.83,266.70 L614.62,267.70 L614.42,268.70 L614.22,269.70 L614.03,270.70 L613.85,271.70 L613.67,272.70 L613.49,273.70 L613.33,274.70 L613.16,275.70 L613.01,276.70 L612.85,277.70 L612.71,278.70 L612.56,279.70 L612.43,280.70 L612.29,281.70 L612.16,282.70 L612.04,283.70 L611.92,284.70 L611.80,285.70 L611.69,286.70 L611.58,287.70 L611.48,288.70 L611.38,289.70 L611.28,290.70 L611.19,291.70 L611.10,292.70 L611.01,293.70 L610.92,294.70 L610.84,295.70 L610.77,296.70 L610.69,297.70 L610.62,298.70 L610.55,299.70 L610.48,300.70 L610.42,301.70 L610.35,302.70 L610.29,303.70 L610.24,304.70 L610.18,305.70 L610.12,306.70 L610.07,307.70 L610.02,308.70 L609.97,309.70 L609.92,310.70 L609.88,311.70 L609.83,312.70 L609.78,313.70 L609.74,314.70 L609.70,315.70 L609.66,316.70 L609.61,317.70 L609.57,318.70 L609.53,319.70 L609.49,320.70 L609.45,321.70 L609.41,322.70 L609.37,323.70 L609.33,324.70 L609.29,325.70 L609.26,326.70 L609.22,327.70 L609.18,328.70 L609.14,329.70 L609.11,330.70 L609.07,331.70 L609.03,332.70 L609.00,333.70 L608.96,334.70 L608.93,335.70 L608.89,336.70 L608.86,337.70 L608.82,338.70 L608.79,339.70 L608.76,340.70 L608.72,341.70 L608.69,342.70 L608.66,343.70 L608.63,344.70 L608.59,345.70 L608.56,346.70 L608.53,347.70 L608.50,348.70 L608.47,349.70 L608.44,350.70 L608.41,351.70 L608.38,352.70 L608.35,353.70 L608.32,354.70 L608.29,355.70 L608.26,356.70 L608.23,357.70 L608.21,358.70 L608.18,359.70 L608.15,360.70 L608.12,361.70 L608.10,362.70 L608.07,363.70 L608.05,364.70 L608.02,365.70 L607.99,366.70 L607.97,367.70 L607.94,368.70 L607.92,369.70 L607.89,370.70 L607.87,371.70 L607.85,372.70 L607.82,373.70 L607.80,374.70 L607.78,375.70 L607.75,376.70 L607.73,377.70 L607.71,378.70 L607.69,379.70 L607.67,380.70 L607.64,381.70 L607.62,382.70 L607.60,383.70 L607.58,384.70 L607.56,385.70 L607.54,386.70 L607.52,387.70 L607.50,388.70 L607.48,389.70 L607.46,390.70 L607.45,391.70 L607.43,392.70 L607.41,393.70 L607.39,394.70 L607.37,395.70 L607.35,396.70 L607.34,397.70 L607.32,398.70 L607.30,399.70 L607.29,400.70 L607.27,401.70 L607.25,402.70 L607.24,403.70 L607.22,404.70 L607.21,405.70 L607.19,406.70 L607.18,407.70 L607.16,408.70 L607.15,409.70 L607.13,410.70 L607.12,411.70 L607.11,412.70 L607.09,413.70 L607.08,414.70 L607.06,415.70 L607.05,416.70 L607.04,417.70 L607.03,418.70 L607.01,419.70 L607.00,420.70 L606.99,421.70 L606.98,422.70 L606.97,423.70 L606.96,424.70 L606.94,425.70 L606.93,426.70 L606.92,427.70 L606.91,428.70 L606.90,429.70 L606.89,430.70 L606.88,431.70 L606.87,432.70 L606.86,433.70 L606.85,434.70 L606.84,435.70 L606.83,436.70 L606.82,437.70 L606.82,438.70 L606.81,439.70 L606.80,440.70 L606.79,441.70 L606.78,442.70 L606.78,443.70 L606.77,444.70 L606.76,445.70 L606.75,446.70 L606.75,447.70 L606.74,448.70 L606.73,449.70 L606.73,450.70 L606.72,451.70 L606.71,452.70 L606.71,453.70 L606.70,454.70 L606.69,455.70 L606.69,456.70 L606.68,457.70 L606.68,458.70 L606.67,459.70 L606.67,460.70 L606.66,461.70 L606.66,462.70 L606.65,463.70 L606.65,464.70 L606.64,465.70 L606.64,466.70 L606.64,467.70 L606.63,468.70 L606.63,469.70 L606.62,470.70 L606.62,471.70 L606.62,472.70 L606.61,473.70 L606.61,474.70 L606.61,475.70 L606.60,476.70 L606.60,477.70 L606.60,478.70 L606.60,479.70 L606.59,480.70 L606.59,481.70 L606.59,482.70 L606.59,483.70 L606.58,484.70 L606.58,485.70 L606.58,486.70 L606.58,487.70 L606.58,488.70 L606.58,489.70 L606.57,490.70 L606.57,491.70 L606.57,492.70 L606.57,493.70 L606.57,494.70 L606.57,495.70 L606.57,496.70 L606.57,497.70 L606.57,498.70 L606.57,499.70 L606.57,500.70 L606.57,501.70 L606.57,502.70 L606.57,503.70 L606.57,504.70 L606.57,505.70 L606.57,506.70 L606.57,507.70 L606.57,508.70 L606.57,509.70 L606.57,510.70 L606.57,511.70 L606.57,512.70 L606.57,513.70 L606.57,514.70 L606.57,515.70 L606.57,516.70 L606.57,517.70 L606.57,518.70 L606.57,519.70 L606.57,520.70 L606.57,521.70 L606.58,522.70 L606.58,523.70 L606.58,524.70 L606.58,525.70 L606.58,526.70 L606.58,527.70 L606.58,528.70 L606.58,529.70 L606.59,530.70 L606.59,531.70 L606.59,532.70 L606.59,533.70 L606.59,534.70 L606.59,535.70 L606.60,536.70 L606.60,537.70 L606.60,538.70 L606.60,539.70 L606.60,540.70 L606.60,541.70 L606.61,542.70 L606.61,543.70 L606.61,544.70 L606.61,545.70 L606.61,546.70 L606.62,547.70 L606.62,548.70 L606.62,549.70 L606.62,550.70 L606.62,551.70 L606.63,552.70 L606.63,553.70 L606.63,554.70 L606.63,555.70 L606.63,556.70 L606.64,557.70 L606.64,558.70 L606.64,559.70 L606.64,560.70 L606.64,561.70 L606.65,562.70 L606.65,563.70 L606.65,564.70 L606.65,565.70 L606.65,566.70 L606.66,567.70 L606.66,568.70 L606.66,569.70 L606.66,570.70 L606.66,571.70 L606.66,572.70 L606.67,573.70 L606.67,574.70 L606.67,575.70 L606.67,576.70 L606.67,577.70 L606.68,578.70 L606.68,579.70 L606.68,580.70 L606.68,581.70 L606.68,582.70 L606.68,583.70 L606.68,584.70 L606.69,585.70 L606.69,586.70 L606.69,587.70 L606.69,588.70 L606.69,589.70 L606.69,590.70 L606.69,591.70 L606.70,592.70 L606.70,593.70 L606.70,594.70 L606.70,595.70 L606.70,596.70 L606.70,597.70 L606.70,598.70 L606.70,599.70 L606.70,600.70 L606.70,601.70 L606.70,602.70 L606.70,603.70 L606.70,604.70 L606.70,605.70 L606.70,606.70 L606.70,607.70 L606.70,608.70 L606.70,609.70 L606.70,610.70 L606.70,611.70 L606.70,612.70 L606.70,613.70 L606.70,614.70 L606.70,615.70 L606.70,616.70 L606.70,617.70 L606.70,618.70 L606.70,619.70 L606.70,620.70 L606.70,621.70 L606.70,622.70 L606.70,623.70 L606.69,624.70 L606.69,625.70 L606.69,626.70 L606.69,627.70 L606.69,628.70 L606.69,629.70 L606.68,630.70 L606.68,631.70 L606.68,632.70 L606.68,633.70 L606.68,634.70 L606.67,635.70 L606.67,636.70 L606.67,637.70 L606.67,638.70 L606.66,639.70 L606.66,640.70 L606.66,641.70 L606.65,642.70 L606.65,643.70 L606.65,644.70 L606.64,645.70 L606.64,646.70 L606.63,647.70 L606.63,648.70 L606.63,649.70 L606.62,650.70 L606.62,651.70 L606.61,652.70 L606.61,653.70 L606.60,654.70 L606.60,655.70 L606.59,656.70 L606.59,657.70 L606.58,658.70 L606.57,659.70 L606.57,660.70 L606.56,661.70 L606.56,662.70 L606.55,663.70 L606.54,664.70 L606.54,665.70 L606.53,666.70 L606.52,667.70 L606.52,668.70 L606.51,669.70 L606.50,670.70 L606.50,671.00 L605.30,671.00 Z" fill="#984EA3" fill-opacity="0.6" stroke="#984EA3" stroke-width="1.7" stroke-linejoin="round"/>
<path d="M744.90,61.60 L752.70,61.60 L753.13,62.60 L753.58,63.60 L754.05,64.60 L754.55,65.60 L755.06,66.60 L755.60,67.60 L756.15,68.60 L756.73,69.60 L757.32,70.60 L757.93,71.60 L758.55,72.60 L759.20,73.60 L759.86,74.60 L760.53,75.60 L761.22,76.60 L761.92,77.60 L762.64,78.60 L763.36,79.60 L764.10,80.60 L764.86,81.60 L765.62,82.60 L766.39,83.60 L767.17,84.60 L767.96,85.60 L768.76,86.60 L769.57,87.60 L770.38,88.60 L771.20,89.60 L772.02,90.60 L772.85,91.60 L773.68,92.60 L774.52,93.60 L775.36,94.60 L776.20,95.60 L777.05,96.60 L777.89,97.60 L778.74,98.60 L779.59,99.60 L780.43,100.60 L781.27,101.60 L782.11,102.60 L782.95,103.60 L783.79,104.60 L784.62,105.60 L785.44,106.60 L786.26,107.60 L787.08,108.60 L787.89,109.60 L788.69,110.60 L789.48,111.60 L790.27,112.60 L791.04,113.60 L791.81,114.60 L792.56,115.60 L793.31,116.60 L794.04,117.60 L794.76,118.60 L795.47,119.60 L796.16,120.60 L796.84,121.60 L797.50,122.60 L798.15,123.60 L798.78,124.60 L799.40,125.60 L800.00,126.60 L800.58,127.60 L801.14,128.60 L801.69,129.60 L802.21,130.60 L802.72,131.60 L803.21,132.60 L803.67,133.60 L804.12,134.60 L804.54,135.60 L804.94,136.60 L805.31,137.60 L805.67,138.60 L805.99,139.60 L806.30,140.60 L806.58,141.60 L806.83,142.60 L807.06,143.60 L807.26,144.60 L807.43,145.60 L807.58,146.60 L807.70,147.60 L807.79,148.60 L807.85,149.60 L807.87,150.60 L807.87,151.60 L807.84,152.60 L807.78,153.60 L807.69,154.60 L807.56,155.60 L807.40,156.60 L807.22,157.60 L807.00,158.60 L806.75,159.60 L806.46,160.60 L806.15,161.60 L805.80,162.60 L805.42,163.60 L805.00,164.60 L804.56,165.60 L804.07,166.60 L803.56,167.60 L803.01,168.60 L802.44,169.60 L801.84,170.60 L801.22,171.60 L800.57,172.60 L799.92,173.60 L799.24,174.60 L798.56,175.60 L797.88,176.60 L797.19,177.60 L796.50,178.60 L795.81,179.60 L795.12,180.60 L794.43,181.60 L793.75,182.60 L793.07,183.60 L792.39,184.60 L791.71,185.60 L791.04,186.60 L790.36,187.60 L789.69,188.60 L789.02,189.60 L788.36,190.60 L787.70,191.60 L787.04,192.60 L786.38,193.60 L785.72,194.60 L785.07,195.60 L784.43,196.60 L783.78,197.60 L783.14,198.60 L782.50,199.60 L781.87,200.60 L781.24,201.60 L780.61,202.60 L779.99,203.60 L779.37,204.60 L778.75,205.60 L778.14,206.60 L777.53,207.60 L776.93,208.60 L776.33,209.60 L775.74,210.60 L775.15,211.60 L774.56,212.60 L773.98,213.60 L773.41,214.60 L772.84,215.60 L772.27,216.60 L771.71,217.60 L771.15,218.60 L770.60,219.60 L770.06,220.60 L769.52,221.60 L768.99,222.60 L768.46,223.60 L767.94,224.60 L767.42,225.60 L766.91,226.60 L766.40,227.60 L765.90,228.60 L765.41,229.60 L764.93,230.60 L764.45,231.60 L763.97,232.60 L763.50,233.60 L763.04,234.60 L762.59,235.60 L762.14,236.60 L761.70,237.60 L761.27,238.60 L760.85,239.60 L760.43,240.60 L760.02,241.60 L759.61,242.60 L759.21,243.60 L758.83,244.60 L758.44,245.60 L758.07,246.60 L757.71,247.60 L757.35,248.60 L757.00,249.60 L756.66,250.60 L756.32,251.60 L756.00,252.60 L755.68,253.60 L755.37,254.60 L755.07,255.60 L754.78,256.60 L754.49,257.60 L754.21,258.60 L753.94,259.60 L753.68,260.60 L753.42,261.60 L753.17,262.60 L752.93,263.60 L752.69,264.60 L752.46,265.60 L752.24,266.60 L752.02,267.60 L751.81,268.60 L751.60,269.60 L751.41,270.60 L751.21,271.60 L751.02,272.60 L750.84,273.60 L750.66,274.60 L750.49,275.60 L750.32,276.60 L750.16,277.60 L750.00,278.60 L749.84,279.60 L749.69,280.60 L749.55,281.60 L749.41,282.60 L749.27,283.60 L749.13,284.60 L749.00,285.60 L748.88,286.60 L748.75,287.60 L748.63,288.60 L748.51,289.60 L748.40,290.60 L748.28,291.60 L748.17,292.60 L748.07,293.60 L747.96,294.60 L747.86,295.60 L747.76,296.60 L747.66,297.60 L747.56,298.60 L747.47,299.60 L747.37,300.60 L747.28,301.60 L747.18,302.60 L747.09,303.60 L747.00,304.60 L746.91,305.60 L746.82,306.60 L746.73,307.60 L746.65,308.60 L746.56,309.60 L746.47,310.60 L746.38,311.60 L746.29,312.60 L746.20,313.60 L746.11,314.60 L746.02,315.60 L745.93,316.60 L745.89,317.00 L744.90,317.10 Z" fill="#FF7F00" fill-opacity="0.6" stroke="#FF7F00" stroke-width="1.7" stroke-linejoin="round"/>
<path d="M884.20,54.80 L889.01,54.80 L889.14,55.80 L889.29,56.80 L889.47,57.80 L889.67,58.80 L889.89,59.80 L890.14,60.80 L890.41,61.80 L890.70,62.80 L891.02,63.80 L891.35,64.80 L891.70,65.80 L892.08,66.80 L892.47,67.80 L892.88,68.80 L893.31,69.80 L893.76,70.80 L894.23,71.80 L894.71,72.80 L895.21,73.80 L895.73,74.80 L896.26,75.80 L896.81,76.80 L897.37,77.80 L897.95,78.80 L898.54,79.80 L899.15,80.80 L899.76,81.80 L900.39,82.80 L901.04,83.80 L901.69,84.80 L902.36,85.80 L903.03,86.80 L903.72,87.80 L904.42,88.80 L905.12,89.80 L905.84,90.80 L906.56,91.80 L907.29,92.80 L908.03,93.80 L908.77,94.80 L909.53,95.80 L910.29,96.80 L911.05,97.80 L911.82,98.80 L912.59,99.80 L913.37,100.80 L914.16,101.80 L914.94,102.80 L915.73,103.80 L916.52,104.80 L917.32,105.80 L918.11,106.80 L918.91,107.80 L919.71,108.80 L920.50,109.80 L921.30,110.80 L922.10,111.80 L922.89,112.80 L923.69,113.80 L924.48,114.80 L925.27,115.80 L926.06,116.80 L926.84,117.80 L927.62,118.80 L928.39,119.80 L929.16,120.80 L929.93,121.80 L930.69,122.80 L931.44,123.80 L932.19,124.80 L932.92,125.80 L933.65,126.80 L934.37,127.80 L935.08,128.80 L935.78,129.80 L936.47,130.80 L937.14,131.80 L937.80,132.80 L938.44,133.80 L939.07,134.80 L939.68,135.80 L940.27,136.80 L940.85,137.80 L941.40,138.80 L941.94,139.80 L942.45,140.80 L942.94,141.80 L943.40,142.80 L943.84,143.80 L944.26,144.80 L944.65,145.80 L945.01,146.80 L945.35,147.80 L945.65,148.80 L945.93,149.80 L946.17,150.80 L946.39,151.80 L946.57,152.80 L946.72,153.80 L946.84,154.80 L946.92,155.80 L946.97,156.80 L947.00,157.80 L946.99,158.80 L946.94,159.80 L946.87,160.80 L946.76,161.80 L946.63,162.80 L946.46,163.80 L946.25,164.80 L946.02,165.80 L945.76,166.80 L945.46,167.80 L945.13,168.80 L944.77,169.80 L944.38,170.80 L943.95,171.80 L943.50,172.80 L943.02,173.80 L942.51,174.80 L941.98,175.80 L941.42,176.80 L940.83,177.80 L940.23,178.80 L939.60,179.80 L938.95,180.80 L938.29,181.80 L937.60,182.80 L936.90,183.80 L936.18,184.80 L935.45,185.80 L934.71,186.80 L933.95,187.80 L933.18,188.80 L932.40,189.80 L931.62,190.80 L930.82,191.80 L930.02,192.80 L929.22,193.80 L928.41,194.80 L927.60,195.80 L926.79,196.80 L925.97,197.80 L925.16,198.80 L924.35,199.80 L923.54,200.80 L922.74,201.80 L921.94,202.80 L921.15,203.80 L920.37,204.80 L919.60,205.80 L918.83,206.80 L918.08,207.80 L917.34,208.80 L916.60,209.80 L915.88,210.80 L915.16,211.80 L914.46,212.80 L913.76,213.80 L913.08,214.80 L912.41,215.80 L911.74,216.80 L911.09,217.80 L910.45,218.80 L909.81,219.80 L909.19,220.80 L908.58,221.80 L907.98,222.80 L907.39,223.80 L906.81,224.80 L906.24,225.80 L905.69,226.80 L905.14,227.80 L904.61,228.80 L904.08,229.80 L903.57,230.80 L903.07,231.80 L902.58,232.80 L902.10,233.80 L901.63,234.80 L901.18,235.80 L900.73,236.80 L900.29,237.80 L899.87,238.80 L899.45,239.80 L899.05,240.80 L898.65,241.80 L898.27,242.80 L897.89,243.80 L897.52,244.80 L897.17,245.80 L896.82,246.80 L896.48,247.80 L896.15,248.80 L895.83,249.80 L895.51,250.80 L895.21,251.80 L894.91,252.80 L894.62,253.80 L894.34,254.80 L894.06,255.80 L893.80,256.80 L893.54,257.80 L893.29,258.80 L893.04,259.80 L892.80,260.80 L892.57,261.80 L892.35,262.80 L892.13,263.80 L891.92,264.80 L891.71,265.80 L891.51,266.80 L891.31,267.80 L891.13,268.80 L890.94,269.80 L890.76,270.80 L890.59,271.80 L890.42,272.80 L890.26,273.80 L890.10,274.80 L889.94,275.80 L889.79,276.80 L889.65,277.80 L889.50,278.80 L889.36,279.80 L889.23,280.80 L889.10,281.80 L888.97,282.80 L888.84,283.80 L888.72,284.80 L888.69,285.10 L884.20,285.10 Z" fill="#FFFF33" fill-opacity="0.6" stroke="#FFFF33" stroke-width="1.7" stroke-linejoin="round"/>
<circle cx="153.7" cy="39.4" r="4.1" fill="#E41A1C"/>
<circle cx="173.8" cy="58.1" r="4.1" fill="#E41A1C"/>
<circle cx="164.4" cy="66.4" r="4.1" fill="#E41A1C"/>
<circle cx="162.5" cy="72.2" r="4.1" fill="#E41A1C"/>
<circle cx="177.7" cy="80.9" r="4.1" fill="#E41A1C"/>
<circle cx="157.9" cy="83.8" r="4.1" fill="#E41A1C"/>
<circle cx="172.4" cy="93.9" r="4.1" fill="#E41A1C"/>
<circle cx="139.3" cy="99.2" r="4.1" fill="#E41A1C"/>
<circle cx="155.9" cy="101.9" r="4.1" fill="#E41A1C"/>
<circle cx="174.4" cy="103.3" r="4.1" fill="#E41A1C"/>
<circle cx="163.6" cy="105.8" r="4.1" fill="#E41A1C"/>
<circle cx="139.9" cy="111.4" r="4.1" fill="#E41A1C"/>
<circle cx="146.5" cy="114.3" r="4.1" fill="#E41A1C"/>
<circle cx="143.7" cy="117.1" r="4.1" fill="#E41A1C"/>
<circle cx="155.9" cy="114.9" r="4.1" fill="#E41A1C"/>
<circle cx="157.0" cy="118.7" r="4.1" fill="#E41A1C"/>
<circle cx="166.3" cy="111.6" r="4.1" fill="#E41A1C"/>
<circle cx="173.5" cy="113.8" r="4.1" fill="#E41A1C"/>
<circle cx="168.5" cy="118.2" r="4.1" fill="#E41A1C"/>
<circle cx="179.0" cy="120.9" r="4.1" fill="#E41A1C"/>
<circle cx="138.8" cy="124.4" r="4.1" fill="#E41A1C"/>
<circle cx="143.7" cy="126.6" r="4.1" fill="#E41A1C"/>
<circle cx="142.6" cy="131.0" r="4.1" fill="#E41A1C"/>
<circle cx="144.3" cy="135.4" r="4.1" fill="#E41A1C"/>
<circle cx="141.5" cy="142.0" r="4.1" fill="#E41A1C"/>
<circle cx="147.0" cy="139.8" r="4.1" fill="#E41A1C"/>
<circle cx="151.5" cy="134.3" r="4.1" fill="#E41A1C"/>
<circle cx="153.7" cy="131.0" r="4.1" fill="#E41A1C"/>
<circle cx="158.1" cy="134.3" r="4.1" fill="#E41A1C"/>
<circle cx="162.5" cy="136.5" r="4.1" fill="#E41A1C"/>
<circle cx="152.6" cy="142.0" r="4.1" fill="#E41A1C"/>
<circle cx="150.4" cy="146.5" r="4.1" fill="#E41A1C"/>
<circle cx="155.9" cy="149.8" r="4.1" fill="#E41A1C"/>
<circle cx="147.0" cy="148.7" r="4.1" fill="#E41A1C"/>
<circle cx="142.6" cy="155.3" r="4.1" fill="#E41A1C"/>
<circle cx="147.0" cy="154.2" r="4.1" fill="#E41A1C"/>
<circle cx="145.9" cy="162.4" r="4.1" fill="#E41A1C"/>
<circle cx="140.4" cy="156.4" r="4.1" fill="#E41A1C"/>
<circle cx="157.0" cy="120.6" r="4.1" fill="#E41A1C"/>
<circle cx="169.1" cy="122.2" r="4.1" fill="#E41A1C"/>
<circle cx="176.8" cy="121.7" r="4.1" fill="#E41A1C"/>
<circle cx="180.1" cy="122.2" r="4.1" fill="#E41A1C"/>
<circle cx="166.9" cy="129.9" r="4.1" fill="#E41A1C"/>
<circle cx="169.1" cy="126.6" r="4.1" fill="#E41A1C"/>
<circle cx="179.0" cy="140.9" r="4.1" fill="#E41A1C"/>
<circle cx="177.9" cy="148.7" r="4.1" fill="#E41A1C"/>
<circle cx="171.3" cy="145.4" r="4.1" fill="#E41A1C"/>
<circle cx="166.9" cy="148.7" r="4.1" fill="#E41A1C"/>
<circle cx="164.7" cy="153.1" r="4.1" fill="#E41A1C"/>
<circle cx="169.1" cy="152.0" r="4.1" fill="#E41A1C"/>
<circle cx="165.8" cy="158.6" r="4.1" fill="#E41A1C"/>
<circle cx="172.4" cy="160.8" r="4.1" fill="#E41A1C"/>
<circle cx="173.5" cy="166.3" r="4.1" fill="#E41A1C"/>
<circle cx="169.1" cy="170.7" r="4.1" fill="#E41A1C"/>
<circle cx="160.3" cy="166.3" r="4.1" fill="#E41A1C"/>
<circle cx="158.1" cy="165.2" r="4.1" fill="#E41A1C"/>
<circle cx="175.7" cy="171.8" r="4.1" fill="#E41A1C"/>
<circle cx="171.3" cy="175.1" r="4.1" fill="#E41A1C"/>
<circle cx="166.9" cy="175.1" r="4.1" fill="#E41A1C"/>
<circle cx="176.8" cy="175.1" r="4.1" fill="#E41A1C"/>
<circle cx="139.3" cy="167.4" r="4.1" fill="#E41A1C"/>
<circle cx="143.7" cy="171.8" r="4.1" fill="#E41A1C"/>
<circle cx="149.3" cy="171.8" r="4.1" fill="#E41A1C"/>
<circle cx="153.7" cy="174.0" r="4.1" fill="#E41A1C"/>
<circle cx="140.4" cy="181.7" r="4.1" fill="#E41A1C"/>
<circle cx="147.0" cy="181.7" r="4.1" fill="#E41A1C"/>
<circle cx="161.4" cy="178.4" r="4.1" fill="#E41A1C"/>
<circle cx="162.5" cy="183.9" r="4.1" fill="#E41A1C"/>
<circle cx="166.9" cy="186.1" r="4.1" fill="#E41A1C"/>
<circle cx="171.3" cy="188.3" r="4.1" fill="#E41A1C"/>
<circle cx="171.3" cy="195.0" r="4.1" fill="#E41A1C"/>
<circle cx="177.9" cy="186.1" r="4.1" fill="#E41A1C"/>
<circle cx="147.0" cy="191.7" r="4.1" fill="#E41A1C"/>
<circle cx="153.7" cy="191.7" r="4.1" fill="#E41A1C"/>
<circle cx="150.4" cy="197.2" r="4.1" fill="#E41A1C"/>
<circle cx="155.9" cy="199.4" r="4.1" fill="#E41A1C"/>
<circle cx="163.6" cy="199.4" r="4.1" fill="#E41A1C"/>
<circle cx="166.9" cy="199.4" r="4.1" fill="#E41A1C"/>
<circle cx="147.0" cy="201.6" r="4.1" fill="#E41A1C"/>
<circle cx="139.3" cy="208.2" r="4.1" fill="#E41A1C"/>
<circle cx="143.7" cy="210.4" r="4.1" fill="#E41A1C"/>
<circle cx="141.5" cy="213.7" r="4.1" fill="#E41A1C"/>
<circle cx="149.3" cy="206.0" r="4.1" fill="#E41A1C"/>
<circle cx="153.7" cy="207.1" r="4.1" fill="#E41A1C"/>
<circle cx="157.0" cy="211.5" r="4.1" fill="#E41A1C"/>
<circle cx="154.8" cy="204.9" r="4.1" fill="#E41A1C"/>
<circle cx="175.7" cy="208.2" r="4.1" fill="#E41A1C"/>
<circle cx="176.8" cy="213.7" r="4.1" fill="#E41A1C"/>
<circle cx="151.5" cy="217.0" r="4.1" fill="#E41A1C"/>
<circle cx="150.9" cy="218.8" r="4.1" fill="#E41A1C"/>
<circle cx="141.5" cy="227.6" r="4.1" fill="#E41A1C"/>
<circle cx="147.0" cy="225.4" r="4.1" fill="#E41A1C"/>
<circle cx="144.3" cy="235.9" r="4.1" fill="#E41A1C"/>
<circle cx="158.1" cy="227.6" r="4.1" fill="#E41A1C"/>
<circle cx="164.7" cy="224.3" r="4.1" fill="#E41A1C"/>
<circle cx="155.9" cy="236.5" r="4.1" fill="#E41A1C"/>
<circle cx="160.3" cy="233.1" r="4.1" fill="#E41A1C"/>
<circle cx="165.8" cy="235.4" r="4.1" fill="#E41A1C"/>
<circle cx="173.5" cy="236.5" r="4.1" fill="#E41A1C"/>
<circle cx="175.7" cy="240.9" r="4.1" fill="#E41A1C"/>
<circle cx="169.1" cy="239.8" r="4.1" fill="#E41A1C"/>
<circle cx="163.6" cy="246.4" r="4.1" fill="#E41A1C"/>
<circle cx="139.3" cy="246.4" r="4.1" fill="#E41A1C"/>
<circle cx="146.5" cy="249.7" r="4.1" fill="#E41A1C"/>
<circle cx="150.4" cy="254.1" r="4.1" fill="#E41A1C"/>
<circle cx="158.1" cy="254.1" r="4.1" fill="#E41A1C"/>
<circle cx="169.6" cy="252.4" r="4.1" fill="#E41A1C"/>
<circle cx="164.1" cy="260.7" r="4.1" fill="#E41A1C"/>
<circle cx="173.0" cy="261.8" r="4.1" fill="#E41A1C"/>
<circle cx="165.8" cy="268.4" r="4.1" fill="#E41A1C"/>
<circle cx="169.1" cy="273.9" r="4.1" fill="#E41A1C"/>
<circle cx="175.7" cy="272.8" r="4.1" fill="#E41A1C"/>
<circle cx="171.3" cy="278.3" r="4.1" fill="#E41A1C"/>
<circle cx="176.3" cy="282.8" r="4.1" fill="#E41A1C"/>
<circle cx="144.8" cy="280.6" r="4.1" fill="#E41A1C"/>
<circle cx="150.4" cy="280.6" r="4.1" fill="#E41A1C"/>
<circle cx="164.7" cy="283.9" r="4.1" fill="#E41A1C"/>
<circle cx="162.5" cy="291.6" r="4.1" fill="#E41A1C"/>
<circle cx="169.1" cy="290.5" r="4.1" fill="#E41A1C"/>
<circle cx="165.8" cy="287.2" r="4.1" fill="#E41A1C"/>
<circle cx="150.4" cy="292.7" r="4.1" fill="#E41A1C"/>
<circle cx="154.8" cy="298.2" r="4.1" fill="#E41A1C"/>
<circle cx="147.0" cy="304.8" r="4.1" fill="#E41A1C"/>
<circle cx="167.9" cy="314.3" r="4.1" fill="#E41A1C"/>
<circle cx="139.2" cy="320.9" r="4.1" fill="#E41A1C"/>
<circle cx="155.7" cy="320.3" r="4.1" fill="#E41A1C"/>
<circle cx="176.2" cy="321.4" r="4.1" fill="#E41A1C"/>
<circle cx="170.1" cy="325.8" r="4.1" fill="#E41A1C"/>
<circle cx="150.7" cy="331.3" r="4.1" fill="#E41A1C"/>
<circle cx="164.6" cy="331.5" r="4.1" fill="#E41A1C"/>
<circle cx="174.0" cy="337.4" r="4.1" fill="#E41A1C"/>
<circle cx="172.3" cy="345.6" r="4.1" fill="#E41A1C"/>
<circle cx="159.1" cy="369.4" r="4.1" fill="#E41A1C"/>
<circle cx="164.6" cy="368.3" r="4.1" fill="#E41A1C"/>
<circle cx="138.1" cy="376.0" r="4.1" fill="#E41A1C"/>
<circle cx="174.0" cy="395.4" r="4.1" fill="#E41A1C"/>
<circle cx="173.4" cy="413.0" r="4.1" fill="#E41A1C"/>
<circle cx="160.2" cy="423.8" r="4.1" fill="#E41A1C"/>
<circle cx="177.3" cy="433.7" r="4.1" fill="#E41A1C"/>
<circle cx="148.0" cy="474.0" r="4.1" fill="#E41A1C"/>
<circle cx="174.5" cy="561.1" r="4.1" fill="#E41A1C"/>
<circle cx="146.7" cy="800.4" r="4.1" fill="#E41A1C"/>
<circle cx="304.1" cy="73.2" r="4.1" fill="#377EB8"/>
<circle cx="310.7" cy="76.5" r="4.1" fill="#377EB8"/>
<circle cx="281.5" cy="88.1" r="4.1" fill="#377EB8"/>
<circle cx="284.8" cy="94.7" r="4.1" fill="#377EB8"/>
<circle cx="279.9" cy="94.7" r="4.1" fill="#377EB8"/>
<circle cx="301.9" cy="84.8" r="4.1" fill="#377EB8"/>
<circle cx="298.1" cy="88.7" r="4.1" fill="#377EB8"/>
<circle cx="304.1" cy="92.0" r="4.1" fill="#377EB8"/>
<circle cx="303.6" cy="95.8" r="4.1" fill="#377EB8"/>
<circle cx="308.5" cy="107.4" r="4.1" fill="#377EB8"/>
<circle cx="317.9" cy="110.7" r="4.1" fill="#377EB8"/>
<circle cx="312.4" cy="118.4" r="4.1" fill="#377EB8"/>
<circle cx="302.5" cy="111.8" r="4.1" fill="#377EB8"/>
<circle cx="297.5" cy="115.1" r="4.1" fill="#377EB8"/>
<circle cx="288.7" cy="122.8" r="4.1" fill="#377EB8"/>
<circle cx="292.0" cy="127.2" r="4.1" fill="#377EB8"/>
<circle cx="298.1" cy="123.4" r="4.1" fill="#377EB8"/>
<circle cx="300.3" cy="130.6" r="4.1" fill="#377EB8"/>
<circle cx="308.0" cy="127.2" r="4.1" fill="#377EB8"/>
<circle cx="313.5" cy="133.9" r="4.1" fill="#377EB8"/>
<circle cx="279.9" cy="130.0" r="4.1" fill="#377EB8"/>
<circle cx="282.6" cy="136.1" r="4.1" fill="#377EB8"/>
<circle cx="288.7" cy="135.0" r="4.1" fill="#377EB8"/>
<circle cx="294.8" cy="139.4" r="4.1" fill="#377EB8"/>
<circle cx="293.7" cy="143.8" r="4.1" fill="#377EB8"/>
<circle cx="298.1" cy="141.6" r="4.1" fill="#377EB8"/>
<circle cx="305.8" cy="137.2" r="4.1" fill="#377EB8"/>
<circle cx="303.6" cy="146.0" r="4.1" fill="#377EB8"/>
<circle cx="282.6" cy="146.0" r="4.1" fill="#377EB8"/>
<circle cx="289.3" cy="149.3" r="4.1" fill="#377EB8"/>
<circle cx="317.9" cy="146.0" r="4.1" fill="#377EB8"/>
<circle cx="284.8" cy="151.1" r="4.1" fill="#377EB8"/>
<circle cx="291.5" cy="151.7" r="4.1" fill="#377EB8"/>
<circle cx="299.2" cy="155.5" r="4.1" fill="#377EB8"/>
<circle cx="281.5" cy="160.5" r="4.1" fill="#377EB8"/>
<circle cx="287.0" cy="158.8" r="4.1" fill="#377EB8"/>
<circle cx="291.5" cy="161.0" r="4.1" fill="#377EB8"/>
<circle cx="294.8" cy="156.6" r="4.1" fill="#377EB8"/>
<circle cx="282.6" cy="166.5" r="4.1" fill="#377EB8"/>
<circle cx="288.1" cy="167.6" r="4.1" fill="#377EB8"/>
<circle cx="292.6" cy="165.4" r="4.1" fill="#377EB8"/>
<circle cx="303.6" cy="162.1" r="4.1" fill="#377EB8"/>
<circle cx="312.4" cy="157.7" r="4.1" fill="#377EB8"/>
<circle cx="316.8" cy="159.9" r="4.1" fill="#377EB8"/>
<circle cx="311.3" cy="165.4" r="4.1" fill="#377EB8"/>
<circle cx="315.7" cy="166.5" r="4.1" fill="#377EB8"/>
<circle cx="278.2" cy="173.7" r="4.1" fill="#377EB8"/>
<circle cx="279.3" cy="177.6" r="4.1" fill="#377EB8"/>
<circle cx="297.0" cy="172.0" r="4.1" fill="#377EB8"/>
<circle cx="291.5" cy="179.2" r="4.1" fill="#377EB8"/>
<circle cx="298.1" cy="177.0" r="4.1" fill="#377EB8"/>
<circle cx="303.6" cy="176.5" r="4.1" fill="#377EB8"/>
<circle cx="306.9" cy="175.4" r="4.1" fill="#377EB8"/>
<circle cx="313.5" cy="178.7" r="4.1" fill="#377EB8"/>
<circle cx="316.8" cy="185.3" r="4.1" fill="#377EB8"/>
<circle cx="298.1" cy="183.1" r="4.1" fill="#377EB8"/>
<circle cx="282.6" cy="186.9" r="4.1" fill="#377EB8"/>
<circle cx="284.8" cy="191.9" r="4.1" fill="#377EB8"/>
<circle cx="291.5" cy="191.3" r="4.1" fill="#377EB8"/>
<circle cx="300.3" cy="188.6" r="4.1" fill="#377EB8"/>
<circle cx="303.6" cy="194.1" r="4.1" fill="#377EB8"/>
<circle cx="311.3" cy="194.1" r="4.1" fill="#377EB8"/>
<circle cx="319.0" cy="195.2" r="4.1" fill="#377EB8"/>
<circle cx="279.9" cy="199.6" r="4.1" fill="#377EB8"/>
<circle cx="305.8" cy="200.7" r="4.1" fill="#377EB8"/>
<circle cx="309.1" cy="204.6" r="4.1" fill="#377EB8"/>
<circle cx="316.8" cy="206.2" r="4.1" fill="#377EB8"/>
<circle cx="288.7" cy="206.8" r="4.1" fill="#377EB8"/>
<circle cx="294.2" cy="211.2" r="4.1" fill="#377EB8"/>
<circle cx="277.7" cy="212.3" r="4.1" fill="#377EB8"/>
<circle cx="289.3" cy="216.1" r="4.1" fill="#377EB8"/>
<circle cx="304.7" cy="215.6" r="4.1" fill="#377EB8"/>
<circle cx="311.3" cy="216.1" r="4.1" fill="#377EB8"/>
<circle cx="306.9" cy="221.7" r="4.1" fill="#377EB8"/>
<circle cx="285.9" cy="221.7" r="4.1" fill="#377EB8"/>
<circle cx="279.3" cy="226.1" r="4.1" fill="#377EB8"/>
<circle cx="279.3" cy="229.4" r="4.1" fill="#377EB8"/>
<circle cx="290.4" cy="227.2" r="4.1" fill="#377EB8"/>
<circle cx="291.5" cy="233.2" r="4.1" fill="#377EB8"/>
<circle cx="300.3" cy="228.8" r="4.1" fill="#377EB8"/>
<circle cx="304.7" cy="229.4" r="4.1" fill="#377EB8"/>
<circle cx="311.3" cy="229.4" r="4.1" fill="#377EB8"/>
<circle cx="316.8" cy="233.8" r="4.1" fill="#377EB8"/>
<circle cx="306.9" cy="238.2" r="4.1" fill="#377EB8"/>
<circle cx="316.8" cy="238.2" r="4.1" fill="#377EB8"/>
<circle cx="305.7" cy="253.2" r="4.1" fill="#377EB8"/>
<circle cx="311.2" cy="252.1" r="4.1" fill="#377EB8"/>
<circle cx="309.0" cy="256.5" r="4.1" fill="#377EB8"/>
<circle cx="316.2" cy="259.8" r="4.1" fill="#377EB8"/>
<circle cx="278.1" cy="260.9" r="4.1" fill="#377EB8"/>
<circle cx="283.6" cy="269.7" r="4.1" fill="#377EB8"/>
<circle cx="284.7" cy="276.3" r="4.1" fill="#377EB8"/>
<circle cx="285.8" cy="279.6" r="4.1" fill="#377EB8"/>
<circle cx="317.8" cy="275.2" r="4.1" fill="#377EB8"/>
<circle cx="318.9" cy="278.5" r="4.1" fill="#377EB8"/>
<circle cx="313.4" cy="283.0" r="4.1" fill="#377EB8"/>
<circle cx="296.9" cy="285.2" r="4.1" fill="#377EB8"/>
<circle cx="288.0" cy="288.5" r="4.1" fill="#377EB8"/>
<circle cx="292.9" cy="292.9" r="4.1" fill="#377EB8"/>
<circle cx="303.9" cy="293.3" r="4.1" fill="#377EB8"/>
<circle cx="279.7" cy="302.8" r="4.1" fill="#377EB8"/>
<circle cx="298.6" cy="306.1" r="4.1" fill="#377EB8"/>
<circle cx="312.3" cy="302.8" r="4.1" fill="#377EB8"/>
<circle cx="316.7" cy="304.3" r="4.1" fill="#377EB8"/>
<circle cx="311.8" cy="309.8" r="4.1" fill="#377EB8"/>
<circle cx="278.8" cy="313.1" r="4.1" fill="#377EB8"/>
<circle cx="303.5" cy="317.1" r="4.1" fill="#377EB8"/>
<circle cx="286.5" cy="331.0" r="4.1" fill="#377EB8"/>
<circle cx="289.1" cy="338.5" r="4.1" fill="#377EB8"/>
<circle cx="305.2" cy="328.8" r="4.1" fill="#377EB8"/>
<circle cx="311.8" cy="343.1" r="4.1" fill="#377EB8"/>
<circle cx="283.6" cy="348.6" r="4.1" fill="#377EB8"/>
<circle cx="288.5" cy="353.4" r="4.1" fill="#377EB8"/>
<circle cx="285.8" cy="360.0" r="4.1" fill="#377EB8"/>
<circle cx="288.5" cy="364.4" r="4.1" fill="#377EB8"/>
<circle cx="300.8" cy="359.6" r="4.1" fill="#377EB8"/>
<circle cx="306.1" cy="360.0" r="4.1" fill="#377EB8"/>
<circle cx="278.1" cy="377.2" r="4.1" fill="#377EB8"/>
<circle cx="288.0" cy="398.6" r="4.1" fill="#377EB8"/>
<circle cx="299.1" cy="398.1" r="4.1" fill="#377EB8"/>
<circle cx="300.8" cy="403.4" r="4.1" fill="#377EB8"/>
<circle cx="292.9" cy="441.0" r="4.1" fill="#377EB8"/>
<circle cx="307.9" cy="475.2" r="4.1" fill="#377EB8"/>
<circle cx="281.4" cy="524.3" r="4.1" fill="#377EB8"/>
<circle cx="312.9" cy="520.3" r="4.1" fill="#377EB8"/>
<circle cx="313.8" cy="532.9" r="4.1" fill="#377EB8"/>
<circle cx="318.2" cy="543.4" r="4.1" fill="#377EB8"/>
<circle cx="281.4" cy="593.0" r="4.1" fill="#377EB8"/>
<circle cx="298.0" cy="605.8" r="4.1" fill="#377EB8"/>
<circle cx="442.1" cy="62.7" r="4.1" fill="#4DAF4A"/>
<circle cx="417.3" cy="90.6" r="4.1" fill="#4DAF4A"/>
<circle cx="433.9" cy="89.4" r="4.1" fill="#4DAF4A"/>
<circle cx="453.8" cy="85.3" r="4.1" fill="#4DAF4A"/>
<circle cx="448.9" cy="98.5" r="4.1" fill="#4DAF4A"/>
<circle cx="421.0" cy="100.7" r="4.1" fill="#4DAF4A"/>
<circle cx="424.3" cy="107.9" r="4.1" fill="#4DAF4A"/>
<circle cx="430.6" cy="101.6" r="4.1" fill="#4DAF4A"/>
<circle cx="437.5" cy="104.6" r="4.1" fill="#4DAF4A"/>
<circle cx="444.1" cy="105.7" r="4.1" fill="#4DAF4A"/>
<circle cx="456.8" cy="106.2" r="4.1" fill="#4DAF4A"/>
<circle cx="457.7" cy="110.1" r="4.1" fill="#4DAF4A"/>
<circle cx="457.9" cy="117.2" r="4.1" fill="#4DAF4A"/>
<circle cx="455.7" cy="122.2" r="4.1" fill="#4DAF4A"/>
<circle cx="427.0" cy="113.9" r="4.1" fill="#4DAF4A"/>
<circle cx="424.8" cy="118.3" r="4.1" fill="#4DAF4A"/>
<circle cx="431.5" cy="117.2" r="4.1" fill="#4DAF4A"/>
<circle cx="439.2" cy="112.8" r="4.1" fill="#4DAF4A"/>
<circle cx="443.6" cy="117.2" r="4.1" fill="#4DAF4A"/>
<circle cx="438.1" cy="121.7" r="4.1" fill="#4DAF4A"/>
<circle cx="418.2" cy="127.2" r="4.1" fill="#4DAF4A"/>
<circle cx="423.7" cy="125.0" r="4.1" fill="#4DAF4A"/>
<circle cx="430.4" cy="122.8" r="4.1" fill="#4DAF4A"/>
<circle cx="437.0" cy="127.2" r="4.1" fill="#4DAF4A"/>
<circle cx="449.1" cy="128.3" r="4.1" fill="#4DAF4A"/>
<circle cx="441.4" cy="130.5" r="4.1" fill="#4DAF4A"/>
<circle cx="429.3" cy="133.8" r="4.1" fill="#4DAF4A"/>
<circle cx="433.7" cy="133.8" r="4.1" fill="#4DAF4A"/>
<circle cx="442.5" cy="137.1" r="4.1" fill="#4DAF4A"/>
<circle cx="417.1" cy="139.3" r="4.1" fill="#4DAF4A"/>
<circle cx="422.6" cy="138.2" r="4.1" fill="#4DAF4A"/>
<circle cx="430.4" cy="138.2" r="4.1" fill="#4DAF4A"/>
<circle cx="437.0" cy="141.5" r="4.1" fill="#4DAF4A"/>
<circle cx="455.7" cy="136.0" r="4.1" fill="#4DAF4A"/>
<circle cx="417.1" cy="142.2" r="4.1" fill="#4DAF4A"/>
<circle cx="423.7" cy="141.1" r="4.1" fill="#4DAF4A"/>
<circle cx="432.6" cy="141.1" r="4.1" fill="#4DAF4A"/>
<circle cx="440.3" cy="141.1" r="4.1" fill="#4DAF4A"/>
<circle cx="419.3" cy="146.6" r="4.1" fill="#4DAF4A"/>
<circle cx="427.0" cy="144.4" r="4.1" fill="#4DAF4A"/>
<circle cx="433.7" cy="145.5" r="4.1" fill="#4DAF4A"/>
<circle cx="441.4" cy="146.6" r="4.1" fill="#4DAF4A"/>
<circle cx="449.1" cy="145.5" r="4.1" fill="#4DAF4A"/>
<circle cx="456.8" cy="144.4" r="4.1" fill="#4DAF4A"/>
<circle cx="459.0" cy="149.9" r="4.1" fill="#4DAF4A"/>
<circle cx="417.1" cy="154.3" r="4.1" fill="#4DAF4A"/>
<circle cx="422.6" cy="154.3" r="4.1" fill="#4DAF4A"/>
<circle cx="431.5" cy="151.0" r="4.1" fill="#4DAF4A"/>
<circle cx="438.1" cy="152.1" r="4.1" fill="#4DAF4A"/>
<circle cx="443.6" cy="154.3" r="4.1" fill="#4DAF4A"/>
<circle cx="451.3" cy="149.9" r="4.1" fill="#4DAF4A"/>
<circle cx="418.2" cy="160.9" r="4.1" fill="#4DAF4A"/>
<circle cx="423.7" cy="160.9" r="4.1" fill="#4DAF4A"/>
<circle cx="430.4" cy="160.9" r="4.1" fill="#4DAF4A"/>
<circle cx="437.0" cy="158.7" r="4.1" fill="#4DAF4A"/>
<circle cx="442.5" cy="158.7" r="4.1" fill="#4DAF4A"/>
<circle cx="435.9" cy="163.1" r="4.1" fill="#4DAF4A"/>
<circle cx="445.8" cy="164.3" r="4.1" fill="#4DAF4A"/>
<circle cx="452.4" cy="165.4" r="4.1" fill="#4DAF4A"/>
<circle cx="457.9" cy="164.3" r="4.1" fill="#4DAF4A"/>
<circle cx="459.0" cy="167.6" r="4.1" fill="#4DAF4A"/>
<circle cx="418.2" cy="170.9" r="4.1" fill="#4DAF4A"/>
<circle cx="422.6" cy="168.7" r="4.1" fill="#4DAF4A"/>
<circle cx="429.3" cy="166.5" r="4.1" fill="#4DAF4A"/>
<circle cx="443.6" cy="168.7" r="4.1" fill="#4DAF4A"/>
<circle cx="450.2" cy="169.8" r="4.1" fill="#4DAF4A"/>
<circle cx="419.3" cy="178.6" r="4.1" fill="#4DAF4A"/>
<circle cx="419.3" cy="185.2" r="4.1" fill="#4DAF4A"/>
<circle cx="431.5" cy="178.0" r="4.1" fill="#4DAF4A"/>
<circle cx="437.0" cy="178.6" r="4.1" fill="#4DAF4A"/>
<circle cx="443.6" cy="175.3" r="4.1" fill="#4DAF4A"/>
<circle cx="434.8" cy="186.3" r="4.1" fill="#4DAF4A"/>
<circle cx="441.4" cy="187.4" r="4.1" fill="#4DAF4A"/>
<circle cx="453.5" cy="186.3" r="4.1" fill="#4DAF4A"/>
<circle cx="459.0" cy="194.0" r="4.1" fill="#4DAF4A"/>
<circle cx="422.6" cy="198.4" r="4.1" fill="#4DAF4A"/>
<circle cx="430.4" cy="197.3" r="4.1" fill="#4DAF4A"/>
<circle cx="421.5" cy="201.7" r="4.1" fill="#4DAF4A"/>
<circle cx="429.3" cy="205.0" r="4.1" fill="#4DAF4A"/>
<circle cx="440.8" cy="202.8" r="4.1" fill="#4DAF4A"/>
<circle cx="421.5" cy="210.6" r="4.1" fill="#4DAF4A"/>
<circle cx="420.4" cy="216.1" r="4.1" fill="#4DAF4A"/>
<circle cx="429.3" cy="213.9" r="4.1" fill="#4DAF4A"/>
<circle cx="432.6" cy="215.0" r="4.1" fill="#4DAF4A"/>
<circle cx="428.7" cy="219.4" r="4.1" fill="#4DAF4A"/>
<circle cx="446.9" cy="210.6" r="4.1" fill="#4DAF4A"/>
<circle cx="453.5" cy="210.6" r="4.1" fill="#4DAF4A"/>
<circle cx="445.8" cy="216.1" r="4.1" fill="#4DAF4A"/>
<circle cx="455.7" cy="219.4" r="4.1" fill="#4DAF4A"/>
<circle cx="459.0" cy="220.5" r="4.1" fill="#4DAF4A"/>
<circle cx="419.3" cy="228.2" r="4.1" fill="#4DAF4A"/>
<circle cx="422.6" cy="233.7" r="4.1" fill="#4DAF4A"/>
<circle cx="429.3" cy="229.3" r="4.1" fill="#4DAF4A"/>
<circle cx="435.9" cy="231.5" r="4.1" fill="#4DAF4A"/>
<circle cx="446.9" cy="232.0" r="4.1" fill="#4DAF4A"/>
<circle cx="459.0" cy="228.2" r="4.1" fill="#4DAF4A"/>
<circle cx="459.0" cy="234.8" r="4.1" fill="#4DAF4A"/>
<circle cx="422.5" cy="242.1" r="4.1" fill="#4DAF4A"/>
<circle cx="440.8" cy="247.2" r="4.1" fill="#4DAF4A"/>
<circle cx="452.7" cy="246.5" r="4.1" fill="#4DAF4A"/>
<circle cx="421.4" cy="258.2" r="4.1" fill="#4DAF4A"/>
<circle cx="431.3" cy="273.0" r="4.1" fill="#4DAF4A"/>
<circle cx="426.5" cy="284.0" r="4.1" fill="#4DAF4A"/>
<circle cx="438.6" cy="278.9" r="4.1" fill="#4DAF4A"/>
<circle cx="447.2" cy="278.0" r="4.1" fill="#4DAF4A"/>
<circle cx="452.9" cy="275.2" r="4.1" fill="#4DAF4A"/>
<circle cx="452.3" cy="316.6" r="4.1" fill="#4DAF4A"/>
<circle cx="451.2" cy="327.6" r="4.1" fill="#4DAF4A"/>
<circle cx="450.1" cy="339.5" r="4.1" fill="#4DAF4A"/>
<circle cx="438.6" cy="362.6" r="4.1" fill="#4DAF4A"/>
<circle cx="442.8" cy="397.0" r="4.1" fill="#4DAF4A"/>
<circle cx="432.0" cy="408.0" r="4.1" fill="#4DAF4A"/>
<circle cx="439.1" cy="440.5" r="4.1" fill="#4DAF4A"/>
<circle cx="441.9" cy="557.7" r="4.1" fill="#4DAF4A"/>
<circle cx="421.0" cy="566.0" r="4.1" fill="#4DAF4A"/>
<circle cx="457.0" cy="675.7" r="4.1" fill="#4DAF4A"/>
<circle cx="455.7" cy="704.3" r="4.1" fill="#4DAF4A"/>
<circle cx="417.8" cy="733.7" r="4.1" fill="#4DAF4A"/>
<circle cx="560.8" cy="65.8" r="4.1" fill="#984EA3"/>
<circle cx="567.9" cy="83.3" r="4.1" fill="#984EA3"/>
<circle cx="559.7" cy="99.6" r="4.1" fill="#984EA3"/>
<circle cx="561.8" cy="111.8" r="4.1" fill="#984EA3"/>
<circle cx="570.6" cy="108.2" r="4.1" fill="#984EA3"/>
<circle cx="585.2" cy="103.5" r="4.1" fill="#984EA3"/>
<circle cx="591.3" cy="99.1" r="4.1" fill="#984EA3"/>
<circle cx="596.8" cy="102.4" r="4.1" fill="#984EA3"/>
<circle cx="589.1" cy="107.9" r="4.1" fill="#984EA3"/>
<circle cx="588.0" cy="112.3" r="4.1" fill="#984EA3"/>
<circle cx="594.6" cy="116.7" r="4.1" fill="#984EA3"/>
<circle cx="579.2" cy="118.9" r="4.1" fill="#984EA3"/>
<circle cx="574.8" cy="125.6" r="4.1" fill="#984EA3"/>
<circle cx="581.4" cy="122.2" r="4.1" fill="#984EA3"/>
<circle cx="591.3" cy="124.4" r="4.1" fill="#984EA3"/>
<circle cx="596.8" cy="130.0" r="4.1" fill="#984EA3"/>
<circle cx="586.9" cy="127.8" r="4.1" fill="#984EA3"/>
<circle cx="558.2" cy="130.0" r="4.1" fill="#984EA3"/>
<circle cx="562.6" cy="128.9" r="4.1" fill="#984EA3"/>
<circle cx="561.5" cy="134.4" r="4.1" fill="#984EA3"/>
<circle cx="570.4" cy="132.2" r="4.1" fill="#984EA3"/>
<circle cx="578.1" cy="131.1" r="4.1" fill="#984EA3"/>
<circle cx="584.7" cy="134.4" r="4.1" fill="#984EA3"/>
<circle cx="591.3" cy="134.4" r="4.1" fill="#984EA3"/>
<circle cx="559.3" cy="143.2" r="4.1" fill="#984EA3"/>
<circle cx="565.9" cy="141.0" r="4.1" fill="#984EA3"/>
<circle cx="573.7" cy="138.8" r="4.1" fill="#984EA3"/>
<circle cx="579.2" cy="138.8" r="4.1" fill="#984EA3"/>
<circle cx="586.9" cy="142.1" r="4.1" fill="#984EA3"/>
<circle cx="594.6" cy="141.0" r="4.1" fill="#984EA3"/>
<circle cx="559.3" cy="146.1" r="4.1" fill="#984EA3"/>
<circle cx="569.3" cy="147.2" r="4.1" fill="#984EA3"/>
<circle cx="578.1" cy="146.1" r="4.1" fill="#984EA3"/>
<circle cx="588.0" cy="147.2" r="4.1" fill="#984EA3"/>
<circle cx="595.7" cy="149.4" r="4.1" fill="#984EA3"/>
<circle cx="557.1" cy="153.8" r="4.1" fill="#984EA3"/>
<circle cx="562.6" cy="151.6" r="4.1" fill="#984EA3"/>
<circle cx="572.6" cy="152.7" r="4.1" fill="#984EA3"/>
<circle cx="581.4" cy="151.6" r="4.1" fill="#984EA3"/>
<circle cx="591.3" cy="156.0" r="4.1" fill="#984EA3"/>
<circle cx="558.2" cy="161.5" r="4.1" fill="#984EA3"/>
<circle cx="567.0" cy="159.3" r="4.1" fill="#984EA3"/>
<circle cx="574.8" cy="161.5" r="4.1" fill="#984EA3"/>
<circle cx="581.4" cy="159.3" r="4.1" fill="#984EA3"/>
<circle cx="588.0" cy="162.6" r="4.1" fill="#984EA3"/>
<circle cx="594.6" cy="161.5" r="4.1" fill="#984EA3"/>
<circle cx="559.3" cy="167.0" r="4.1" fill="#984EA3"/>
<circle cx="571.5" cy="167.0" r="4.1" fill="#984EA3"/>
<circle cx="578.1" cy="167.0" r="4.1" fill="#984EA3"/>
<circle cx="584.7" cy="169.3" r="4.1" fill="#984EA3"/>
<circle cx="591.3" cy="167.0" r="4.1" fill="#984EA3"/>
<circle cx="597.9" cy="172.6" r="4.1" fill="#984EA3"/>
<circle cx="557.1" cy="173.7" r="4.1" fill="#984EA3"/>
<circle cx="563.7" cy="172.6" r="4.1" fill="#984EA3"/>
<circle cx="571.5" cy="179.2" r="4.1" fill="#984EA3"/>
<circle cx="581.4" cy="173.7" r="4.1" fill="#984EA3"/>
<circle cx="589.1" cy="175.9" r="4.1" fill="#984EA3"/>
<circle cx="584.7" cy="180.3" r="4.1" fill="#984EA3"/>
<circle cx="561.5" cy="180.3" r="4.1" fill="#984EA3"/>
<circle cx="561.5" cy="184.7" r="4.1" fill="#984EA3"/>
<circle cx="565.9" cy="188.0" r="4.1" fill="#984EA3"/>
<circle cx="577.0" cy="190.2" r="4.1" fill="#984EA3"/>
<circle cx="589.1" cy="190.2" r="4.1" fill="#984EA3"/>
<circle cx="594.6" cy="194.6" r="4.1" fill="#984EA3"/>
<circle cx="581.4" cy="200.1" r="4.1" fill="#984EA3"/>
<circle cx="589.1" cy="197.9" r="4.1" fill="#984EA3"/>
<circle cx="593.5" cy="202.3" r="4.1" fill="#984EA3"/>
<circle cx="584.7" cy="206.7" r="4.1" fill="#984EA3"/>
<circle cx="590.2" cy="210.0" r="4.1" fill="#984EA3"/>
<circle cx="595.7" cy="214.4" r="4.1" fill="#984EA3"/>
<circle cx="559.3" cy="195.7" r="4.1" fill="#984EA3"/>
<circle cx="560.4" cy="200.1" r="4.1" fill="#984EA3"/>
<circle cx="558.2" cy="210.0" r="4.1" fill="#984EA3"/>
<circle cx="562.6" cy="211.1" r="4.1" fill="#984EA3"/>
<circle cx="570.4" cy="210.0" r="4.1" fill="#984EA3"/>
<circle cx="569.8" cy="220.0" r="4.1" fill="#984EA3"/>
<circle cx="580.3" cy="221.6" r="4.1" fill="#984EA3"/>
<circle cx="594.6" cy="228.8" r="4.1" fill="#984EA3"/>
<circle cx="586.9" cy="233.2" r="4.1" fill="#984EA3"/>
<circle cx="583.6" cy="238.7" r="4.1" fill="#984EA3"/>
<circle cx="589.1" cy="242.0" r="4.1" fill="#984EA3"/>
<circle cx="597.4" cy="239.8" r="4.1" fill="#984EA3"/>
<circle cx="585.7" cy="253.7" r="4.1" fill="#984EA3"/>
<circle cx="591.6" cy="257.0" r="4.1" fill="#984EA3"/>
<circle cx="560.8" cy="260.3" r="4.1" fill="#984EA3"/>
<circle cx="557.0" cy="280.2" r="4.1" fill="#984EA3"/>
<circle cx="589.0" cy="285.2" r="4.1" fill="#984EA3"/>
<circle cx="594.9" cy="291.2" r="4.1" fill="#984EA3"/>
<circle cx="558.1" cy="297.3" r="4.1" fill="#984EA3"/>
<circle cx="589.6" cy="297.8" r="4.1" fill="#984EA3"/>
<circle cx="565.8" cy="330.2" r="4.1" fill="#984EA3"/>
<circle cx="560.3" cy="350.2" r="4.1" fill="#984EA3"/>
<circle cx="565.8" cy="356.1" r="4.1" fill="#984EA3"/>
<circle cx="572.4" cy="355.0" r="4.1" fill="#984EA3"/>
<circle cx="588.2" cy="491.2" r="4.1" fill="#984EA3"/>
<circle cx="595.1" cy="585.9" r="4.1" fill="#984EA3"/>
<circle cx="565.3" cy="599.7" r="4.1" fill="#984EA3"/>
<circle cx="595.9" cy="651.2" r="4.1" fill="#984EA3"/>
<circle cx="581.3" cy="670.2" r="4.1" fill="#984EA3"/>
<circle cx="705.4" cy="64.0" r="4.1" fill="#FF7F00"/>
<circle cx="715.0" cy="61.4" r="4.1" fill="#FF7F00"/>
<circle cx="697.5" cy="76.8" r="4.1" fill="#FF7F00"/>
<circle cx="722.7" cy="78.1" r="4.1" fill="#FF7F00"/>
<circle cx="713.7" cy="84.0" r="4.1" fill="#FF7F00"/>
<circle cx="726.3" cy="86.9" r="4.1" fill="#FF7F00"/>
<circle cx="721.4" cy="89.7" r="4.1" fill="#FF7F00"/>
<circle cx="725.8" cy="93.0" r="4.1" fill="#FF7F00"/>
<circle cx="719.0" cy="96.3" r="4.1" fill="#FF7F00"/>
<circle cx="698.2" cy="97.4" r="4.1" fill="#FF7F00"/>
<circle cx="702.6" cy="99.6" r="4.1" fill="#FF7F00"/>
<circle cx="699.9" cy="102.9" r="4.1" fill="#FF7F00"/>
<circle cx="715.0" cy="104.8" r="4.1" fill="#FF7F00"/>
<circle cx="725.2" cy="105.7" r="4.1" fill="#FF7F00"/>
<circle cx="735.2" cy="107.3" r="4.1" fill="#FF7F00"/>
<circle cx="737.9" cy="113.9" r="4.1" fill="#FF7F00"/>
<circle cx="697.1" cy="115.0" r="4.1" fill="#FF7F00"/>
<circle cx="703.7" cy="115.0" r="4.1" fill="#FF7F00"/>
<circle cx="710.4" cy="117.2" r="4.1" fill="#FF7F00"/>
<circle cx="719.2" cy="115.0" r="4.1" fill="#FF7F00"/>
<circle cx="729.1" cy="111.7" r="4.1" fill="#FF7F00"/>
<circle cx="725.8" cy="118.3" r="4.1" fill="#FF7F00"/>
<circle cx="734.6" cy="120.6" r="4.1" fill="#FF7F00"/>
<circle cx="699.3" cy="122.8" r="4.1" fill="#FF7F00"/>
<circle cx="701.5" cy="128.3" r="4.1" fill="#FF7F00"/>
<circle cx="708.1" cy="127.2" r="4.1" fill="#FF7F00"/>
<circle cx="715.9" cy="125.0" r="4.1" fill="#FF7F00"/>
<circle cx="721.4" cy="122.8" r="4.1" fill="#FF7F00"/>
<circle cx="731.3" cy="126.1" r="4.1" fill="#FF7F00"/>
<circle cx="736.8" cy="127.2" r="4.1" fill="#FF7F00"/>
<circle cx="698.2" cy="133.8" r="4.1" fill="#FF7F00"/>
<circle cx="704.8" cy="133.8" r="4.1" fill="#FF7F00"/>
<circle cx="712.6" cy="131.6" r="4.1" fill="#FF7F00"/>
<circle cx="718.1" cy="133.8" r="4.1" fill="#FF7F00"/>
<circle cx="726.9" cy="131.6" r="4.1" fill="#FF7F00"/>
<circle cx="733.5" cy="133.8" r="4.1" fill="#FF7F00"/>
<circle cx="696.0" cy="139.3" r="4.1" fill="#FF7F00"/>
<circle cx="704.8" cy="140.4" r="4.1" fill="#FF7F00"/>
<circle cx="710.4" cy="138.2" r="4.1" fill="#FF7F00"/>
<circle cx="715.9" cy="141.5" r="4.1" fill="#FF7F00"/>
<circle cx="722.5" cy="139.3" r="4.1" fill="#FF7F00"/>
<circle cx="729.1" cy="138.2" r="4.1" fill="#FF7F00"/>
<circle cx="736.8" cy="140.4" r="4.1" fill="#FF7F00"/>
<circle cx="697.1" cy="141.1" r="4.1" fill="#FF7F00"/>
<circle cx="707.0" cy="141.1" r="4.1" fill="#FF7F00"/>
<circle cx="713.7" cy="141.7" r="4.1" fill="#FF7F00"/>
<circle cx="721.4" cy="142.2" r="4.1" fill="#FF7F00"/>
<circle cx="731.3" cy="142.2" r="4.1" fill="#FF7F00"/>
<circle cx="739.0" cy="142.2" r="4.1" fill="#FF7F00"/>
<circle cx="698.2" cy="148.8" r="4.1" fill="#FF7F00"/>
<circle cx="703.7" cy="147.7" r="4.1" fill="#FF7F00"/>
<circle cx="711.5" cy="147.7" r="4.1" fill="#FF7F00"/>
<circle cx="718.1" cy="149.9" r="4.1" fill="#FF7F00"/>
<circle cx="726.9" cy="148.8" r="4.1" fill="#FF7F00"/>
<circle cx="733.5" cy="151.0" r="4.1" fill="#FF7F00"/>
<circle cx="698.2" cy="156.5" r="4.1" fill="#FF7F00"/>
<circle cx="709.3" cy="155.4" r="4.1" fill="#FF7F00"/>
<circle cx="714.8" cy="157.6" r="4.1" fill="#FF7F00"/>
<circle cx="721.4" cy="157.6" r="4.1" fill="#FF7F00"/>
<circle cx="729.1" cy="158.7" r="4.1" fill="#FF7F00"/>
<circle cx="734.6" cy="156.5" r="4.1" fill="#FF7F00"/>
<circle cx="701.5" cy="163.1" r="4.1" fill="#FF7F00"/>
<circle cx="710.4" cy="164.3" r="4.1" fill="#FF7F00"/>
<circle cx="717.0" cy="162.0" r="4.1" fill="#FF7F00"/>
<circle cx="724.7" cy="163.1" r="4.1" fill="#FF7F00"/>
<circle cx="731.3" cy="164.3" r="4.1" fill="#FF7F00"/>
<circle cx="702.6" cy="169.8" r="4.1" fill="#FF7F00"/>
<circle cx="712.6" cy="168.7" r="4.1" fill="#FF7F00"/>
<circle cx="718.1" cy="172.0" r="4.1" fill="#FF7F00"/>
<circle cx="733.5" cy="170.9" r="4.1" fill="#FF7F00"/>
<circle cx="736.8" cy="169.8" r="4.1" fill="#FF7F00"/>
<circle cx="699.3" cy="176.4" r="4.1" fill="#FF7F00"/>
<circle cx="705.9" cy="175.3" r="4.1" fill="#FF7F00"/>
<circle cx="714.8" cy="177.5" r="4.1" fill="#FF7F00"/>
<circle cx="722.5" cy="176.4" r="4.1" fill="#FF7F00"/>
<circle cx="729.1" cy="177.5" r="4.1" fill="#FF7F00"/>
<circle cx="734.6" cy="176.4" r="4.1" fill="#FF7F00"/>
<circle cx="697.1" cy="183.0" r="4.1" fill="#FF7F00"/>
<circle cx="703.7" cy="181.9" r="4.1" fill="#FF7F00"/>
<circle cx="711.5" cy="181.9" r="4.1" fill="#FF7F00"/>
<circle cx="718.1" cy="181.9" r="4.1" fill="#FF7F00"/>
<circle cx="724.7" cy="184.1" r="4.1" fill="#FF7F00"/>
<circle cx="733.5" cy="184.1" r="4.1" fill="#FF7F00"/>
<circle cx="699.3" cy="190.7" r="4.1" fill="#FF7F00"/>
<circle cx="705.9" cy="190.7" r="4.1" fill="#FF7F00"/>
<circle cx="718.1" cy="190.7" r="4.1" fill="#FF7F00"/>
<circle cx="722.5" cy="192.9" r="4.1" fill="#FF7F00"/>
<circle cx="736.8" cy="191.8" r="4.1" fill="#FF7F00"/>
<circle cx="697.1" cy="196.2" r="4.1" fill="#FF7F00"/>
<circle cx="704.8" cy="198.4" r="4.1" fill="#FF7F00"/>
<circle cx="711.5" cy="197.3" r="4.1" fill="#FF7F00"/>
<circle cx="721.4" cy="199.5" r="4.1" fill="#FF7F00"/>
<circle cx="737.9" cy="197.3" r="4.1" fill="#FF7F00"/>
<circle cx="730.2" cy="201.7" r="4.1" fill="#FF7F00"/>
<circle cx="733.5" cy="205.0" r="4.1" fill="#FF7F00"/>
<circle cx="704.8" cy="207.2" r="4.1" fill="#FF7F00"/>
<circle cx="728.0" cy="210.6" r="4.1" fill="#FF7F00"/>
<circle cx="697.1" cy="215.5" r="4.1" fill="#FF7F00"/>
<circle cx="735.2" cy="216.1" r="4.1" fill="#FF7F00"/>
<circle cx="736.8" cy="222.1" r="4.1" fill="#FF7F00"/>
<circle cx="714.8" cy="228.7" r="4.1" fill="#FF7F00"/>
<circle cx="724.7" cy="227.1" r="4.1" fill="#FF7F00"/>
<circle cx="731.3" cy="230.4" r="4.1" fill="#FF7F00"/>
<circle cx="735.7" cy="234.8" r="4.1" fill="#FF7F00"/>
<circle cx="700.4" cy="234.3" r="4.1" fill="#FF7F00"/>
<circle cx="704.8" cy="242.7" r="4.1" fill="#FF7F00"/>
<circle cx="703.1" cy="246.5" r="4.1" fill="#FF7F00"/>
<circle cx="726.3" cy="248.2" r="4.1" fill="#FF7F00"/>
<circle cx="734.9" cy="248.5" r="4.1" fill="#FF7F00"/>
<circle cx="726.6" cy="257.6" r="4.1" fill="#FF7F00"/>
<circle cx="734.2" cy="262.0" r="4.1" fill="#FF7F00"/>
<circle cx="720.5" cy="269.7" r="4.1" fill="#FF7F00"/>
<circle cx="734.8" cy="271.1" r="4.1" fill="#FF7F00"/>
<circle cx="707.7" cy="310.5" r="4.1" fill="#FF7F00"/>
<circle cx="700.4" cy="316.5" r="4.1" fill="#FF7F00"/>
<circle cx="856.1" cy="55.3" r="4.1" fill="#FFFF33"/>
<circle cx="837.1" cy="82.8" r="4.1" fill="#FFFF33"/>
<circle cx="865.0" cy="77.7" r="4.1" fill="#FFFF33"/>
<circle cx="868.0" cy="86.3" r="4.1" fill="#FFFF33"/>
<circle cx="871.9" cy="91.9" r="4.1" fill="#FFFF33"/>
<circle cx="848.1" cy="97.9" r="4.1" fill="#FFFF33"/>
<circle cx="855.3" cy="96.8" r="4.1" fill="#FFFF33"/>
<circle cx="842.1" cy="102.9" r="4.1" fill="#FFFF33"/>
<circle cx="862.5" cy="99.0" r="4.1" fill="#FFFF33"/>
<circle cx="865.8" cy="102.3" r="4.1" fill="#FFFF33"/>
<circle cx="869.1" cy="105.6" r="4.1" fill="#FFFF33"/>
<circle cx="876.8" cy="103.4" r="4.1" fill="#FFFF33"/>
<circle cx="876.8" cy="110.0" r="4.1" fill="#FFFF33"/>
<circle cx="839.3" cy="110.0" r="4.1" fill="#FFFF33"/>
<circle cx="842.6" cy="113.3" r="4.1" fill="#FFFF33"/>
<circle cx="854.8" cy="108.9" r="4.1" fill="#FFFF33"/>
<circle cx="862.5" cy="112.2" r="4.1" fill="#FFFF33"/>
<circle cx="858.1" cy="116.7" r="4.1" fill="#FFFF33"/>
<circle cx="863.6" cy="121.1" r="4.1" fill="#FFFF33"/>
<circle cx="845.9" cy="117.8" r="4.1" fill="#FFFF33"/>
<circle cx="841.5" cy="123.3" r="4.1" fill="#FFFF33"/>
<circle cx="836.0" cy="127.7" r="4.1" fill="#FFFF33"/>
<circle cx="848.1" cy="128.8" r="4.1" fill="#FFFF33"/>
<circle cx="857.0" cy="128.8" r="4.1" fill="#FFFF33"/>
<circle cx="870.2" cy="129.9" r="4.1" fill="#FFFF33"/>
<circle cx="874.6" cy="122.2" r="4.1" fill="#FFFF33"/>
<circle cx="875.7" cy="131.0" r="4.1" fill="#FFFF33"/>
<circle cx="839.3" cy="135.4" r="4.1" fill="#FFFF33"/>
<circle cx="847.0" cy="134.3" r="4.1" fill="#FFFF33"/>
<circle cx="858.1" cy="134.3" r="4.1" fill="#FFFF33"/>
<circle cx="838.2" cy="137.2" r="4.1" fill="#FFFF33"/>
<circle cx="848.1" cy="136.7" r="4.1" fill="#FFFF33"/>
<circle cx="858.1" cy="137.2" r="4.1" fill="#FFFF33"/>
<circle cx="866.9" cy="139.4" r="4.1" fill="#FFFF33"/>
<circle cx="872.4" cy="136.1" r="4.1" fill="#FFFF33"/>
<circle cx="837.1" cy="146.0" r="4.1" fill="#FFFF33"/>
<circle cx="844.8" cy="144.9" r="4.1" fill="#FFFF33"/>
<circle cx="851.5" cy="143.8" r="4.1" fill="#FFFF33"/>
<circle cx="860.3" cy="144.9" r="4.1" fill="#FFFF33"/>
<circle cx="868.0" cy="148.2" r="4.1" fill="#FFFF33"/>
<circle cx="873.5" cy="147.1" r="4.1" fill="#FFFF33"/>
<circle cx="876.8" cy="150.4" r="4.1" fill="#FFFF33"/>
<circle cx="838.2" cy="154.8" r="4.1" fill="#FFFF33"/>
<circle cx="847.0" cy="153.7" r="4.1" fill="#FFFF33"/>
<circle cx="852.6" cy="155.9" r="4.1" fill="#FFFF33"/>
<circle cx="864.7" cy="153.7" r="4.1" fill="#FFFF33"/>
<circle cx="871.3" cy="153.7" r="4.1" fill="#FFFF33"/>
<circle cx="837.1" cy="164.8" r="4.1" fill="#FFFF33"/>
<circle cx="843.7" cy="163.7" r="4.1" fill="#FFFF33"/>
<circle cx="851.5" cy="163.7" r="4.1" fill="#FFFF33"/>
<circle cx="858.1" cy="163.7" r="4.1" fill="#FFFF33"/>
<circle cx="864.7" cy="162.6" r="4.1" fill="#FFFF33"/>
<circle cx="872.4" cy="164.8" r="4.1" fill="#FFFF33"/>
<circle cx="875.7" cy="173.6" r="4.1" fill="#FFFF33"/>
<circle cx="837.1" cy="175.8" r="4.1" fill="#FFFF33"/>
<circle cx="844.8" cy="172.5" r="4.1" fill="#FFFF33"/>
<circle cx="852.6" cy="171.4" r="4.1" fill="#FFFF33"/>
<circle cx="859.2" cy="171.4" r="4.1" fill="#FFFF33"/>
<circle cx="869.1" cy="171.4" r="4.1" fill="#FFFF33"/>
<circle cx="868.0" cy="179.1" r="4.1" fill="#FFFF33"/>
<circle cx="843.7" cy="182.4" r="4.1" fill="#FFFF33"/>
<circle cx="851.5" cy="181.3" r="4.1" fill="#FFFF33"/>
<circle cx="857.0" cy="181.3" r="4.1" fill="#FFFF33"/>
<circle cx="847.0" cy="189.0" r="4.1" fill="#FFFF33"/>
<circle cx="857.0" cy="189.0" r="4.1" fill="#FFFF33"/>
<circle cx="836.0" cy="189.0" r="4.1" fill="#FFFF33"/>
<circle cx="873.5" cy="189.0" r="4.1" fill="#FFFF33"/>
<circle cx="875.7" cy="192.3" r="4.1" fill="#FFFF33"/>
<circle cx="836.0" cy="200.0" r="4.1" fill="#FFFF33"/>
<circle cx="844.8" cy="198.9" r="4.1" fill="#FFFF33"/>
<circle cx="864.7" cy="192.3" r="4.1" fill="#FFFF33"/>
<circle cx="862.5" cy="198.9" r="4.1" fill="#FFFF33"/>
<circle cx="868.0" cy="203.3" r="4.1" fill="#FFFF33"/>
<circle cx="850.4" cy="206.7" r="4.1" fill="#FFFF33"/>
<circle cx="853.7" cy="211.1" r="4.1" fill="#FFFF33"/>
<circle cx="865.8" cy="211.1" r="4.1" fill="#FFFF33"/>
<circle cx="872.4" cy="208.9" r="4.1" fill="#FFFF33"/>
<circle cx="840.4" cy="219.9" r="4.1" fill="#FFFF33"/>
<circle cx="847.0" cy="215.5" r="4.1" fill="#FFFF33"/>
<circle cx="860.3" cy="216.6" r="4.1" fill="#FFFF33"/>
<circle cx="864.7" cy="218.8" r="4.1" fill="#FFFF33"/>
<circle cx="840.4" cy="226.5" r="4.1" fill="#FFFF33"/>
<circle cx="847.0" cy="228.7" r="4.1" fill="#FFFF33"/>
<circle cx="851.5" cy="226.5" r="4.1" fill="#FFFF33"/>
<circle cx="860.8" cy="228.1" r="4.1" fill="#FFFF33"/>
<circle cx="839.8" cy="249.8" r="4.1" fill="#FFFF33"/>
<circle cx="836.5" cy="258.1" r="4.1" fill="#FFFF33"/>
<circle cx="852.2" cy="256.8" r="4.1" fill="#FFFF33"/>
<circle cx="863.0" cy="254.8" r="4.1" fill="#FFFF33"/>
<circle cx="867.4" cy="249.5" r="4.1" fill="#FFFF33"/>
<circle cx="862.6" cy="266.9" r="4.1" fill="#FFFF33"/>
<circle cx="849.2" cy="278.3" r="4.1" fill="#FFFF33"/>
<circle cx="837.1" cy="284.9" r="4.1" fill="#FFFF33"/>
<circle cx="592.4" cy="106.8" r="4.1" fill="#984EA3"/>
<circle cx="593.5" cy="112.3" r="4.1" fill="#984EA3"/>
<circle cx="589.1" cy="103.5" r="4.1" fill="#984EA3"/>
<circle cx="584.7" cy="107.9" r="4.1" fill="#984EA3"/>
<circle cx="581.4" cy="116.7" r="4.1" fill="#984EA3"/>
<circle cx="567.0" cy="123.3" r="4.1" fill="#984EA3"/>
<circle cx="565.9" cy="134.4" r="4.1" fill="#984EA3"/>
<circle cx="583.6" cy="126.7" r="4.1" fill="#984EA3"/>
<circle cx="575.9" cy="134.4" r="4.1" fill="#984EA3"/>
<circle cx="591.3" cy="139.9" r="4.1" fill="#984EA3"/>
<circle cx="570.4" cy="143.2" r="4.1" fill="#984EA3"/>
<circle cx="578.1" cy="143.2" r="4.1" fill="#984EA3"/>
<circle cx="558.2" cy="136.6" r="4.1" fill="#984EA3"/>
<circle cx="595.7" cy="122.2" r="4.1" fill="#984EA3"/>
<circle cx="572.6" cy="126.7" r="4.1" fill="#984EA3"/>
<circle cx="567.0" cy="178.1" r="4.1" fill="#984EA3"/>
<circle cx="575.9" cy="170.4" r="4.1" fill="#984EA3"/>
<circle cx="562.6" cy="158.2" r="4.1" fill="#984EA3"/>
<circle cx="578.1" cy="153.8" r="4.1" fill="#984EA3"/>
<circle cx="571.5" cy="164.8" r="4.1" fill="#984EA3"/>
<circle cx="583.6" cy="193.5" r="4.1" fill="#984EA3"/>
<circle cx="592.4" cy="200.1" r="4.1" fill="#984EA3"/>
<circle cx="586.9" cy="203.4" r="4.1" fill="#984EA3"/>
<circle cx="578.1" cy="195.7" r="4.1" fill="#984EA3"/>
<circle cx="564.8" cy="202.3" r="4.1" fill="#984EA3"/>
<circle cx="567.0" cy="213.3" r="4.1" fill="#984EA3"/>
<circle cx="561.5" cy="205.6" r="4.1" fill="#984EA3"/>
<circle cx="571.5" cy="215.6" r="4.1" fill="#984EA3"/>
<circle cx="433.7" cy="170.9" r="4.1" fill="#4DAF4A"/>
<circle cx="451.3" cy="176.4" r="4.1" fill="#4DAF4A"/>
<circle cx="446.9" cy="181.9" r="4.1" fill="#4DAF4A"/>
<circle cx="438.1" cy="183.0" r="4.1" fill="#4DAF4A"/>
<circle cx="841.5" cy="140.5" r="4.1" fill="#FFFF33"/>
<circle cx="853.7" cy="139.4" r="4.1" fill="#FFFF33"/>
<circle cx="862.5" cy="141.6" r="4.1" fill="#FFFF33"/>
<circle cx="841.5" cy="149.3" r="4.1" fill="#FFFF33"/>
<circle cx="855.9" cy="149.3" r="4.1" fill="#FFFF33"/>
<circle cx="863.6" cy="149.3" r="4.1" fill="#FFFF33"/>
<circle cx="843.7" cy="158.1" r="4.1" fill="#FFFF33"/>
<circle cx="866.9" cy="158.1" r="4.1" fill="#FFFF33"/>
<circle cx="840.4" cy="168.1" r="4.1" fill="#FFFF33"/>
<circle cx="849.3" cy="168.1" r="4.1" fill="#FFFF33"/>
<circle cx="861.4" cy="168.1" r="4.1" fill="#FFFF33"/>
<circle cx="869.1" cy="165.9" r="4.1" fill="#FFFF33"/>
<circle cx="839.3" cy="181.3" r="4.1" fill="#FFFF33"/>
<circle cx="859.2" cy="179.1" r="4.1" fill="#FFFF33"/>
<circle cx="864.7" cy="184.6" r="4.1" fill="#FFFF33"/>
<circle cx="850.4" cy="185.7" r="4.1" fill="#FFFF33"/>
<circle cx="841.5" cy="194.5" r="4.1" fill="#FFFF33"/>
<circle cx="852.6" cy="196.7" r="4.1" fill="#FFFF33"/>
<circle cx="873.5" cy="181.3" r="4.1" fill="#FFFF33"/>
<circle cx="313.5" cy="112.9" r="4.1" fill="#377EB8"/>
<circle cx="303.6" cy="126.1" r="4.1" fill="#377EB8"/>
<circle cx="309.1" cy="135.0" r="4.1" fill="#377EB8"/>
<circle cx="298.1" cy="137.2" r="4.1" fill="#377EB8"/>
<circle cx="287.0" cy="141.6" r="4.1" fill="#377EB8"/>
<line x1="187.0" y1="39.4" x2="187.0" y2="143.5" stroke="#000" stroke-width="1.8"/>
<line x1="187.0" y1="256.2" x2="187.0" y2="423.3" stroke="#000" stroke-width="1.8"/>
<rect x="180.0" y="143.5" width="14.0" height="112.69999999999999" fill="#E41A1C" fill-opacity="0.22" stroke="#000" stroke-width="1.6"/>
<line x1="180.0" y1="192.1" x2="194.0" y2="192.1" stroke="#000" stroke-width="3.4"/>
<line x1="326.4" y1="73.6" x2="326.4" y2="147.3" stroke="#000" stroke-width="1.8"/>
<line x1="326.4" y1="261.0" x2="326.4" y2="403.2" stroke="#000" stroke-width="1.8"/>
<rect x="319.4" y="147.3" width="14.0" height="113.69999999999999" fill="#377EB8" fill-opacity="0.22" stroke="#000" stroke-width="1.6"/>
<line x1="319.4" y1="191.8" x2="333.4" y2="191.8" stroke="#000" stroke-width="3.4"/>
<line x1="465.7" y1="62.6" x2="465.7" y2="134.3" stroke="#000" stroke-width="1.8"/>
<line x1="465.7" y1="206.0" x2="465.7" y2="283.6" stroke="#000" stroke-width="1.8"/>
<rect x="458.7" y="134.3" width="14.0" height="71.69999999999999" fill="#4DAF4A" fill-opacity="0.22" stroke="#000" stroke-width="1.6"/>
<line x1="458.7" y1="159.1" x2="472.7" y2="159.1" stroke="#000" stroke-width="3.4"/>
<line x1="605.3" y1="65.8" x2="605.3" y2="134.8" stroke="#000" stroke-width="1.8"/>
<line x1="605.3" y1="196.2" x2="605.3" y2="285.3" stroke="#000" stroke-width="1.8"/>
<rect x="598.3" y="134.8" width="14.0" height="61.39999999999998" fill="#984EA3" fill-opacity="0.22" stroke="#000" stroke-width="1.6"/>
<line x1="598.3" y1="163.4" x2="612.3" y2="163.4" stroke="#000" stroke-width="3.4"/>
<line x1="744.9" y1="61.6" x2="744.9" y2="130.9" stroke="#000" stroke-width="1.8"/>
<line x1="744.9" y1="184.6" x2="744.9" y2="262.0" stroke="#000" stroke-width="1.8"/>
<rect x="737.9" y="130.9" width="14.0" height="53.69999999999999" fill="#FF7F00" fill-opacity="0.22" stroke="#000" stroke-width="1.6"/>
<line x1="737.9" y1="155.4" x2="751.9" y2="155.4" stroke="#000" stroke-width="3.4"/>
<line x1="884.5" y1="78.3" x2="884.5" y2="134.8" stroke="#000" stroke-width="1.8"/>
<line x1="884.5" y1="186.7" x2="884.5" y2="258.0" stroke="#000" stroke-width="1.8"/>
<rect x="877.5" y="134.8" width="14.0" height="51.89999999999998" fill="#FFFF33" fill-opacity="0.22" stroke="#000" stroke-width="1.6"/>
<line x1="877.5" y1="161.3" x2="891.5" y2="161.3" stroke="#000" stroke-width="3.4"/>
<line x1="75.2" y1="1.6" x2="75.2" y2="839.3" stroke="#000" stroke-width="1.9" stroke-linecap="round"/>
<line x1="74.3" y1="838.5" x2="947.2" y2="838.5" stroke="#000" stroke-width="1.85" stroke-linecap="round"/>
<line x1="69.3" y1="717.68" x2="75.2" y2="717.68" stroke="#000" stroke-width="1.9"/>
<text x="64.3" y="727.08" text-anchor="end" class="tky">50</text>
<line x1="69.3" y1="572.51" x2="75.2" y2="572.51" stroke="#000" stroke-width="1.9"/>
<text x="64.3" y="581.91" text-anchor="end" class="tky">60</text>
<line x1="69.3" y1="427.34" x2="75.2" y2="427.34" stroke="#000" stroke-width="1.9"/>
<text x="64.3" y="436.74" text-anchor="end" class="tky">70</text>
<line x1="69.3" y1="282.17" x2="75.2" y2="282.17" stroke="#000" stroke-width="1.9"/>
<text x="64.3" y="291.57" text-anchor="end" class="tky">80</text>
<line x1="69.3" y1="137.00" x2="75.2" y2="137.00" stroke="#000" stroke-width="1.9"/>
<text x="64.3" y="146.40" text-anchor="end" class="tky">90</text>
<line x1="159.00" y1="838.4" x2="159.00" y2="844" stroke="#000" stroke-width="1.9"/>
<text x="158.70" y="871.2" class="tk">L Ext</text>
<line x1="298.50" y1="838.4" x2="298.50" y2="844" stroke="#000" stroke-width="1.9"/>
<text x="297.20" y="871.2" class="tk">R Ext</text>
<line x1="438.00" y1="838.4" x2="438.00" y2="844" stroke="#000" stroke-width="1.9"/>
<text x="437.70" y="871.2" class="tk">L Int</text>
<line x1="577.50" y1="838.4" x2="577.50" y2="844" stroke="#000" stroke-width="1.9"/>
<text x="576.20" y="871.2" class="tk">R Int</text>
<line x1="717.00" y1="838.4" x2="717.00" y2="844" stroke="#000" stroke-width="1.9"/>
<text x="716.70" y="871.2" class="tk">L Mot</text>
<line x1="856.50" y1="838.4" x2="856.50" y2="844" stroke="#000" stroke-width="1.9"/>
<text x="855.20" y="871.2" class="tk">R Mot</text>
<text x="511.6" y="906.2" text-anchor="middle" class="tt" style="font-size:30.5px">Networks</text>
<text transform="translate(25.2,419.4) rotate(-90)" text-anchor="middle" class="tt" style="font-size:31.5px" textLength="485.5" lengthAdjust="spacing">Percentage Variance Explained (%)</text>
</svg>
</body></html>
